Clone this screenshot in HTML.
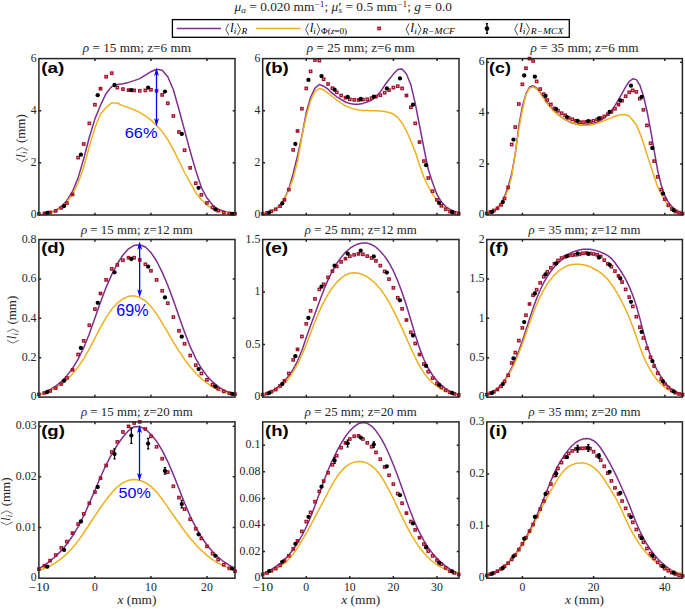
<!DOCTYPE html>
<html><head><meta charset="utf-8"><title>figure</title><style>
html,body{margin:0;padding:0;background:#fff;overflow:hidden;}
svg{display:block;}
</style></head><body>
<svg width="685" height="609" viewBox="0 0 685 609">
<rect x="0" y="0" width="685" height="609" fill="#ffffff"/>
<defs><clipPath id="cpa"><rect x="38.90" y="58.60" width="196.10" height="156.40"/></clipPath><clipPath id="cpb"><rect x="262.70" y="58.60" width="196.30" height="156.40"/></clipPath><clipPath id="cpc"><rect x="486.80" y="58.60" width="195.60" height="156.40"/></clipPath><clipPath id="cpd"><rect x="38.90" y="239.50" width="196.10" height="157.60"/></clipPath><clipPath id="cpe"><rect x="262.70" y="239.50" width="196.30" height="157.60"/></clipPath><clipPath id="cpf"><rect x="486.80" y="239.50" width="195.60" height="157.60"/></clipPath><clipPath id="cpg"><rect x="38.90" y="421.90" width="196.10" height="156.30"/></clipPath><clipPath id="cph"><rect x="262.70" y="421.90" width="196.30" height="156.30"/></clipPath><clipPath id="cpi"><rect x="486.80" y="421.90" width="195.60" height="156.30"/></clipPath></defs>
<g clip-path="url(#cpa)"><path d="M38.90,214.93 L44.50,214.36 L50.11,212.93 L55.71,210.40 L61.31,206.42 L66.92,200.41 L72.52,191.42 L78.12,177.88 L83.72,158.78 L89.33,137.19 L94.93,118.88 L100.53,105.16 L106.14,93.40 L111.74,86.60 L117.34,84.60 L122.94,83.80 L128.55,82.40 L134.15,80.60 L139.75,78.60 L145.36,75.10 L150.96,71.70 L156.56,69.20 L162.16,70.20 L167.77,76.80 L173.37,89.80 L178.97,109.50 L184.58,130.40 L190.18,151.20 L195.78,170.60 L201.39,187.60 L206.99,198.00 L212.59,205.00 L218.19,209.30 L223.80,211.30 L229.40,213.10 L235.00,213.80" fill="none" stroke="#7E2F8E" stroke-width="1.5" stroke-linejoin="round"/><path d="M38.90,214.82 L44.50,214.56 L50.11,213.38 L55.71,211.09 L61.31,207.41 L66.92,201.96 L72.52,194.15 L78.12,183.02 L83.72,167.13 L89.33,146.35 L94.93,127.76 L100.53,114.09 L106.14,107.50 L111.74,102.90 L117.34,103.00 L122.94,105.89 L128.55,107.61 L134.15,109.76 L139.75,112.43 L145.36,115.77 L150.96,120.09 L156.56,125.50 L162.16,131.30 L167.77,139.70 L173.37,149.60 L178.97,161.00 L184.58,172.50 L190.18,182.50 L195.78,192.70 L201.39,199.70 L206.99,205.30 L212.59,208.60 L218.19,210.90 L223.80,212.30 L229.40,213.10 L235.00,213.60" fill="none" stroke="#EDB120" stroke-width="1.5" stroke-linejoin="round"/></g><rect x="37.75" y="212.65" width="2.3" height="2.3" fill="none" stroke="#A2142F" stroke-width="1.4"/><rect x="43.35" y="212.25" width="2.3" height="2.3" fill="none" stroke="#A2142F" stroke-width="1.4"/><rect x="48.96" y="211.25" width="2.3" height="2.3" fill="none" stroke="#A2142F" stroke-width="1.4"/><rect x="54.56" y="209.75" width="2.3" height="2.3" fill="none" stroke="#A2142F" stroke-width="1.4"/><rect x="60.16" y="206.65" width="2.3" height="2.3" fill="none" stroke="#A2142F" stroke-width="1.4"/><rect x="65.77" y="202.05" width="2.3" height="2.3" fill="none" stroke="#A2142F" stroke-width="1.4"/><rect x="71.37" y="193.25" width="2.3" height="2.3" fill="none" stroke="#A2142F" stroke-width="1.4"/><rect x="76.97" y="156.45" width="2.3" height="2.3" fill="none" stroke="#A2142F" stroke-width="1.4"/><rect x="82.57" y="142.85" width="2.3" height="2.3" fill="none" stroke="#A2142F" stroke-width="1.4"/><rect x="88.18" y="122.25" width="2.3" height="2.3" fill="none" stroke="#A2142F" stroke-width="1.4"/><rect x="93.78" y="103.55" width="2.3" height="2.3" fill="none" stroke="#A2142F" stroke-width="1.4"/><rect x="99.38" y="87.55" width="2.3" height="2.3" fill="none" stroke="#A2142F" stroke-width="1.4"/><rect x="104.99" y="75.55" width="2.3" height="2.3" fill="none" stroke="#A2142F" stroke-width="1.4"/><rect x="110.59" y="72.05" width="2.3" height="2.3" fill="none" stroke="#A2142F" stroke-width="1.4"/><rect x="116.19" y="86.45" width="2.3" height="2.3" fill="none" stroke="#A2142F" stroke-width="1.4"/><rect x="121.79" y="87.95" width="2.3" height="2.3" fill="none" stroke="#A2142F" stroke-width="1.4"/><rect x="127.40" y="88.95" width="2.3" height="2.3" fill="none" stroke="#A2142F" stroke-width="1.4"/><rect x="133.00" y="89.25" width="2.3" height="2.3" fill="none" stroke="#A2142F" stroke-width="1.4"/><rect x="138.60" y="89.65" width="2.3" height="2.3" fill="none" stroke="#A2142F" stroke-width="1.4"/><rect x="144.21" y="89.25" width="2.3" height="2.3" fill="none" stroke="#A2142F" stroke-width="1.4"/><rect x="149.81" y="88.65" width="2.3" height="2.3" fill="none" stroke="#A2142F" stroke-width="1.4"/><rect x="155.41" y="89.65" width="2.3" height="2.3" fill="none" stroke="#A2142F" stroke-width="1.4"/><rect x="161.01" y="93.75" width="2.3" height="2.3" fill="none" stroke="#A2142F" stroke-width="1.4"/><rect x="166.62" y="102.15" width="2.3" height="2.3" fill="none" stroke="#A2142F" stroke-width="1.4"/><rect x="172.22" y="114.85" width="2.3" height="2.3" fill="none" stroke="#A2142F" stroke-width="1.4"/><rect x="177.82" y="130.85" width="2.3" height="2.3" fill="none" stroke="#A2142F" stroke-width="1.4"/><rect x="183.43" y="149.05" width="2.3" height="2.3" fill="none" stroke="#A2142F" stroke-width="1.4"/><rect x="189.03" y="166.65" width="2.3" height="2.3" fill="none" stroke="#A2142F" stroke-width="1.4"/><rect x="194.63" y="182.05" width="2.3" height="2.3" fill="none" stroke="#A2142F" stroke-width="1.4"/><rect x="200.24" y="193.65" width="2.3" height="2.3" fill="none" stroke="#A2142F" stroke-width="1.4"/><rect x="205.84" y="201.75" width="2.3" height="2.3" fill="none" stroke="#A2142F" stroke-width="1.4"/><rect x="211.44" y="206.35" width="2.3" height="2.3" fill="none" stroke="#A2142F" stroke-width="1.4"/><rect x="217.04" y="209.55" width="2.3" height="2.3" fill="none" stroke="#A2142F" stroke-width="1.4"/><rect x="222.65" y="211.45" width="2.3" height="2.3" fill="none" stroke="#A2142F" stroke-width="1.4"/><rect x="228.25" y="212.25" width="2.3" height="2.3" fill="none" stroke="#A2142F" stroke-width="1.4"/><rect x="233.85" y="212.55" width="2.3" height="2.3" fill="none" stroke="#A2142F" stroke-width="1.4"/><circle cx="47.31" cy="212.90" r="2.15" fill="#000"/><circle cx="64.11" cy="206.10" r="2.15" fill="#000"/><circle cx="80.92" cy="154.70" r="2.15" fill="#000"/><circle cx="97.73" cy="95.20" r="2.15" fill="#000"/><circle cx="114.54" cy="85.00" r="2.15" fill="#000"/><circle cx="131.35" cy="90.10" r="2.15" fill="#000"/><circle cx="148.16" cy="87.60" r="2.15" fill="#000"/><circle cx="164.97" cy="91.60" r="2.15" fill="#000"/><circle cx="181.77" cy="133.90" r="2.15" fill="#000"/><circle cx="198.58" cy="187.80" r="2.15" fill="#000"/><circle cx="215.39" cy="209.40" r="2.15" fill="#000"/><circle cx="232.20" cy="213.80" r="2.15" fill="#000"/><rect x="38.90" y="58.60" width="196.10" height="156.40" fill="none" stroke="#262626" stroke-width="1.5"/><path d="M94.93,215.00v-2.3M94.93,58.60v2.3M150.96,215.00v-2.3M150.96,58.60v2.3M206.99,215.00v-2.3M206.99,58.60v2.3M38.90,162.87h2.3M235.00,162.87h-2.3M38.90,110.73h2.3M235.00,110.73h-2.3" stroke="#262626" stroke-width="1.5" fill="none"/><text x="36.60" y="218.20" font-family='"Liberation Serif", serif' font-size="11.7" text-anchor="end" textLength="5.85" lengthAdjust="spacingAndGlyphs" fill="#262626">0</text><text x="36.60" y="166.07" font-family='"Liberation Serif", serif' font-size="11.7" text-anchor="end" textLength="5.85" lengthAdjust="spacingAndGlyphs" fill="#262626">2</text><text x="36.60" y="113.93" font-family='"Liberation Serif", serif' font-size="11.7" text-anchor="end" textLength="5.85" lengthAdjust="spacingAndGlyphs" fill="#262626">4</text><text x="36.60" y="61.80" font-family='"Liberation Serif", serif' font-size="11.7" text-anchor="end" textLength="5.85" lengthAdjust="spacingAndGlyphs" fill="#262626">6</text><g transform="translate(82.85,0) scale(1.1290,1)"><text x="0.00" y="52.40" font-family='"Liberation Serif", serif' font-size="11.7" font-style="italic" fill="#262626">ρ</text><text x="5.62" y="52.40" font-family='"Liberation Serif", serif' font-size="11.7" fill="#262626"> = 15 mm; z=6 mm</text></g><text x="41.16" y="72.52" font-family='"Liberation Sans", sans-serif' font-size="14.38" font-weight="bold" textLength="23.14" lengthAdjust="spacingAndGlyphs" fill="#000">(a)</text>
<g clip-path="url(#cpb)"><path d="M262.68,214.81 L267.04,213.58 L271.39,211.70 L275.75,208.91 L280.11,204.82 L284.46,198.68 L288.82,188.97 L293.18,173.53 L297.54,155.72 L301.89,135.83 L306.25,112.34 L310.61,97.30 L314.96,88.10 L319.32,84.50 L323.68,86.20 L328.04,89.22 L332.39,93.37 L336.75,96.78 L341.11,99.30 L345.46,102.00 L349.82,103.60 L354.18,104.30 L358.53,104.20 L362.89,103.40 L367.25,102.00 L371.61,100.00 L375.96,96.56 L380.32,91.96 L384.68,85.30 L389.03,79.50 L393.39,74.10 L397.75,69.60 L402.10,68.90 L406.46,74.00 L410.82,84.70 L415.18,103.20 L419.53,125.50 L423.89,148.00 L428.25,169.30 L432.60,182.80 L436.96,194.50 L441.32,201.80 L445.67,206.60 L450.03,209.40 L454.39,211.30 L458.75,212.80" fill="none" stroke="#7E2F8E" stroke-width="1.5" stroke-linejoin="round"/><path d="M262.68,214.65 L267.04,213.88 L271.39,212.13 L275.75,209.20 L280.11,204.83 L284.46,198.63 L288.82,190.06 L293.18,178.37 L297.54,161.30 L301.89,136.75 L306.25,115.92 L310.61,100.60 L314.96,91.40 L319.32,88.50 L323.68,89.80 L328.04,93.09 L332.39,96.51 L336.75,100.03 L341.11,103.10 L345.46,105.80 L349.82,107.60 L354.18,109.10 L358.53,110.00 L362.89,110.40 L367.25,110.60 L371.61,110.80 L375.96,110.80 L380.32,110.90 L384.68,111.50 L389.03,112.50 L393.39,114.00 L397.75,117.60 L402.10,123.00 L406.46,130.80 L410.82,141.00 L415.18,151.50 L419.53,164.95 L423.89,177.21 L428.25,186.30 L432.60,194.10 L436.96,200.60 L441.32,205.40 L445.67,208.30 L450.03,210.60 L454.39,212.10 L458.75,213.00" fill="none" stroke="#EDB120" stroke-width="1.5" stroke-linejoin="round"/></g><rect x="261.53" y="212.55" width="2.3" height="2.3" fill="none" stroke="#A2142F" stroke-width="1.4"/><rect x="265.89" y="211.75" width="2.3" height="2.3" fill="none" stroke="#A2142F" stroke-width="1.4"/><rect x="270.24" y="210.05" width="2.3" height="2.3" fill="none" stroke="#A2142F" stroke-width="1.4"/><rect x="274.60" y="208.15" width="2.3" height="2.3" fill="none" stroke="#A2142F" stroke-width="1.4"/><rect x="278.96" y="204.95" width="2.3" height="2.3" fill="none" stroke="#A2142F" stroke-width="1.4"/><rect x="283.31" y="198.65" width="2.3" height="2.3" fill="none" stroke="#A2142F" stroke-width="1.4"/><rect x="287.67" y="188.45" width="2.3" height="2.3" fill="none" stroke="#A2142F" stroke-width="1.4"/><rect x="292.03" y="148.75" width="2.3" height="2.3" fill="none" stroke="#A2142F" stroke-width="1.4"/><rect x="296.39" y="129.85" width="2.3" height="2.3" fill="none" stroke="#A2142F" stroke-width="1.4"/><rect x="300.74" y="107.55" width="2.3" height="2.3" fill="none" stroke="#A2142F" stroke-width="1.4"/><rect x="305.10" y="87.25" width="2.3" height="2.3" fill="none" stroke="#A2142F" stroke-width="1.4"/><rect x="309.46" y="70.25" width="2.3" height="2.3" fill="none" stroke="#A2142F" stroke-width="1.4"/><rect x="313.81" y="58.85" width="2.3" height="2.3" fill="none" stroke="#A2142F" stroke-width="1.4"/><rect x="318.17" y="59.45" width="2.3" height="2.3" fill="none" stroke="#A2142F" stroke-width="1.4"/><rect x="322.53" y="78.05" width="2.3" height="2.3" fill="none" stroke="#A2142F" stroke-width="1.4"/><rect x="326.89" y="82.85" width="2.3" height="2.3" fill="none" stroke="#A2142F" stroke-width="1.4"/><rect x="331.24" y="87.05" width="2.3" height="2.3" fill="none" stroke="#A2142F" stroke-width="1.4"/><rect x="335.60" y="91.15" width="2.3" height="2.3" fill="none" stroke="#A2142F" stroke-width="1.4"/><rect x="339.96" y="94.35" width="2.3" height="2.3" fill="none" stroke="#A2142F" stroke-width="1.4"/><rect x="344.31" y="96.55" width="2.3" height="2.3" fill="none" stroke="#A2142F" stroke-width="1.4"/><rect x="348.67" y="98.15" width="2.3" height="2.3" fill="none" stroke="#A2142F" stroke-width="1.4"/><rect x="353.03" y="98.75" width="2.3" height="2.3" fill="none" stroke="#A2142F" stroke-width="1.4"/><rect x="357.38" y="98.85" width="2.3" height="2.3" fill="none" stroke="#A2142F" stroke-width="1.4"/><rect x="361.74" y="98.45" width="2.3" height="2.3" fill="none" stroke="#A2142F" stroke-width="1.4"/><rect x="366.10" y="98.15" width="2.3" height="2.3" fill="none" stroke="#A2142F" stroke-width="1.4"/><rect x="370.46" y="96.95" width="2.3" height="2.3" fill="none" stroke="#A2142F" stroke-width="1.4"/><rect x="374.81" y="95.55" width="2.3" height="2.3" fill="none" stroke="#A2142F" stroke-width="1.4"/><rect x="379.17" y="94.05" width="2.3" height="2.3" fill="none" stroke="#A2142F" stroke-width="1.4"/><rect x="383.53" y="91.55" width="2.3" height="2.3" fill="none" stroke="#A2142F" stroke-width="1.4"/><rect x="387.88" y="88.95" width="2.3" height="2.3" fill="none" stroke="#A2142F" stroke-width="1.4"/><rect x="392.24" y="86.45" width="2.3" height="2.3" fill="none" stroke="#A2142F" stroke-width="1.4"/><rect x="396.60" y="85.05" width="2.3" height="2.3" fill="none" stroke="#A2142F" stroke-width="1.4"/><rect x="400.95" y="87.25" width="2.3" height="2.3" fill="none" stroke="#A2142F" stroke-width="1.4"/><rect x="405.31" y="94.35" width="2.3" height="2.3" fill="none" stroke="#A2142F" stroke-width="1.4"/><rect x="409.67" y="106.15" width="2.3" height="2.3" fill="none" stroke="#A2142F" stroke-width="1.4"/><rect x="414.03" y="122.25" width="2.3" height="2.3" fill="none" stroke="#A2142F" stroke-width="1.4"/><rect x="418.38" y="140.95" width="2.3" height="2.3" fill="none" stroke="#A2142F" stroke-width="1.4"/><rect x="422.74" y="159.95" width="2.3" height="2.3" fill="none" stroke="#A2142F" stroke-width="1.4"/><rect x="427.10" y="176.85" width="2.3" height="2.3" fill="none" stroke="#A2142F" stroke-width="1.4"/><rect x="431.45" y="190.05" width="2.3" height="2.3" fill="none" stroke="#A2142F" stroke-width="1.4"/><rect x="435.81" y="198.75" width="2.3" height="2.3" fill="none" stroke="#A2142F" stroke-width="1.4"/><rect x="440.17" y="204.65" width="2.3" height="2.3" fill="none" stroke="#A2142F" stroke-width="1.4"/><rect x="444.52" y="208.15" width="2.3" height="2.3" fill="none" stroke="#A2142F" stroke-width="1.4"/><rect x="448.88" y="210.45" width="2.3" height="2.3" fill="none" stroke="#A2142F" stroke-width="1.4"/><rect x="453.24" y="211.75" width="2.3" height="2.3" fill="none" stroke="#A2142F" stroke-width="1.4"/><rect x="457.60" y="212.55" width="2.3" height="2.3" fill="none" stroke="#A2142F" stroke-width="1.4"/><circle cx="269.22" cy="212.60" r="2.15" fill="#000"/><circle cx="282.29" cy="203.40" r="2.15" fill="#000"/><circle cx="295.36" cy="144.00" r="2.15" fill="#000"/><circle cx="308.43" cy="79.90" r="2.15" fill="#000"/><circle cx="321.50" cy="76.10" r="2.15" fill="#000"/><circle cx="334.57" cy="89.70" r="2.15" fill="#000"/><circle cx="347.64" cy="96.80" r="2.15" fill="#000"/><circle cx="360.71" cy="99.00" r="2.15" fill="#000"/><circle cx="373.78" cy="96.70" r="2.15" fill="#000"/><circle cx="386.85" cy="88.40" r="2.15" fill="#000"/><circle cx="399.93" cy="78.40" r="2.15" fill="#000"/><circle cx="413.00" cy="104.70" r="2.15" fill="#000"/><circle cx="426.07" cy="165.20" r="2.15" fill="#000"/><circle cx="439.14" cy="202.90" r="2.15" fill="#000"/><circle cx="452.21" cy="212.20" r="2.15" fill="#000"/><rect x="262.70" y="58.60" width="196.30" height="156.40" fill="none" stroke="#262626" stroke-width="1.5"/><path d="M306.25,215.00v-2.3M306.25,58.60v2.3M349.82,215.00v-2.3M349.82,58.60v2.3M393.39,215.00v-2.3M393.39,58.60v2.3M436.96,215.00v-2.3M436.96,58.60v2.3M262.70,162.87h2.3M459.00,162.87h-2.3M262.70,110.73h2.3M459.00,110.73h-2.3" stroke="#262626" stroke-width="1.5" fill="none"/><text x="260.40" y="218.20" font-family='"Liberation Serif", serif' font-size="11.7" text-anchor="end" textLength="5.85" lengthAdjust="spacingAndGlyphs" fill="#262626">0</text><text x="260.40" y="166.07" font-family='"Liberation Serif", serif' font-size="11.7" text-anchor="end" textLength="5.85" lengthAdjust="spacingAndGlyphs" fill="#262626">2</text><text x="260.40" y="113.93" font-family='"Liberation Serif", serif' font-size="11.7" text-anchor="end" textLength="5.85" lengthAdjust="spacingAndGlyphs" fill="#262626">4</text><text x="260.40" y="61.80" font-family='"Liberation Serif", serif' font-size="11.7" text-anchor="end" textLength="5.85" lengthAdjust="spacingAndGlyphs" fill="#262626">6</text><g transform="translate(306.75,0) scale(1.1290,1)"><text x="0.00" y="52.40" font-family='"Liberation Serif", serif' font-size="11.7" font-style="italic" fill="#262626">ρ</text><text x="5.62" y="52.40" font-family='"Liberation Serif", serif' font-size="11.7" fill="#262626"> = 25 mm; z=6 mm</text></g><text x="264.97" y="72.52" font-family='"Liberation Sans", sans-serif' font-size="14.38" font-weight="bold" textLength="23.72" lengthAdjust="spacingAndGlyphs" fill="#000">(b)</text>
<g clip-path="url(#cpc)"><path d="M486.80,214.31 L490.36,213.07 L493.92,211.08 L497.48,208.01 L501.04,203.32 L504.60,196.28 L508.16,186.70 L511.72,173.56 L515.28,153.60 L518.84,126.00 L522.40,106.36 L525.96,93.91 L529.52,87.05 L533.08,85.80 L536.64,88.00 L540.20,92.37 L543.76,97.66 L547.32,102.79 L550.88,107.32 L554.44,111.15 L558.00,114.41 L561.56,117.19 L565.12,119.52 L568.68,121.44 L572.24,122.95 L575.80,124.06 L579.36,124.75 L582.92,125.02 L586.48,124.87 L590.04,124.34 L593.60,123.41 L597.16,122.08 L600.72,120.27 L604.28,117.86 L607.84,114.70 L611.40,110.65 L614.96,105.63 L618.52,99.72 L622.08,93.28 L625.64,86.86 L629.20,81.50 L632.76,78.83 L636.32,79.64 L639.88,85.19 L643.44,95.85 L647.00,111.00 L650.56,129.56 L654.12,150.34 L657.68,170.50 L661.24,185.20 L664.80,195.60 L668.36,202.10 L671.92,206.60 L675.48,209.80 L679.04,211.50 L682.60,212.80" fill="none" stroke="#7E2F8E" stroke-width="1.5" stroke-linejoin="round"/><path d="M486.80,214.71 L490.36,212.92 L493.92,210.57 L497.48,207.50 L501.04,203.42 L504.60,197.83 L508.16,189.72 L511.72,176.46 L515.28,153.00 L518.84,129.12 L522.40,109.96 L525.96,94.74 L529.52,88.10 L533.08,86.81 L536.64,88.72 L540.20,93.12 L543.76,98.63 L547.32,103.84 L550.88,108.09 L554.44,111.64 L558.00,114.63 L561.56,117.17 L565.12,119.31 L568.68,121.10 L572.24,122.56 L575.80,123.70 L579.36,124.52 L582.92,125.01 L586.48,125.15 L590.04,124.92 L593.60,124.28 L597.16,123.29 L600.72,122.02 L604.28,120.60 L607.84,119.10 L611.40,117.63 L614.96,116.29 L618.52,115.20 L622.08,114.58 L625.64,114.70 L629.20,116.05 L632.76,120.20 L636.32,124.70 L639.88,133.10 L643.44,143.20 L647.00,154.40 L650.56,165.30 L654.12,176.50 L657.68,186.90 L661.24,194.20 L664.80,200.50 L668.36,205.70 L671.92,208.70 L675.48,210.80 L679.04,212.30 L682.60,213.20" fill="none" stroke="#EDB120" stroke-width="1.5" stroke-linejoin="round"/></g><rect x="485.65" y="212.25" width="2.3" height="2.3" fill="none" stroke="#A2142F" stroke-width="1.4"/><rect x="489.21" y="210.75" width="2.3" height="2.3" fill="none" stroke="#A2142F" stroke-width="1.4"/><rect x="492.77" y="209.35" width="2.3" height="2.3" fill="none" stroke="#A2142F" stroke-width="1.4"/><rect x="496.33" y="207.15" width="2.3" height="2.3" fill="none" stroke="#A2142F" stroke-width="1.4"/><rect x="499.89" y="203.75" width="2.3" height="2.3" fill="none" stroke="#A2142F" stroke-width="1.4"/><rect x="503.45" y="197.35" width="2.3" height="2.3" fill="none" stroke="#A2142F" stroke-width="1.4"/><rect x="507.01" y="186.25" width="2.3" height="2.3" fill="none" stroke="#A2142F" stroke-width="1.4"/><rect x="510.57" y="143.35" width="2.3" height="2.3" fill="none" stroke="#A2142F" stroke-width="1.4"/><rect x="514.13" y="125.95" width="2.3" height="2.3" fill="none" stroke="#A2142F" stroke-width="1.4"/><rect x="517.69" y="102.85" width="2.3" height="2.3" fill="none" stroke="#A2142F" stroke-width="1.4"/><rect x="521.25" y="83.15" width="2.3" height="2.3" fill="none" stroke="#A2142F" stroke-width="1.4"/><rect x="524.81" y="67.05" width="2.3" height="2.3" fill="none" stroke="#A2142F" stroke-width="1.4"/><rect x="528.37" y="57.45" width="2.3" height="2.3" fill="none" stroke="#A2142F" stroke-width="1.4"/><rect x="531.93" y="59.85" width="2.3" height="2.3" fill="none" stroke="#A2142F" stroke-width="1.4"/><rect x="535.49" y="80.25" width="2.3" height="2.3" fill="none" stroke="#A2142F" stroke-width="1.4"/><rect x="539.05" y="87.95" width="2.3" height="2.3" fill="none" stroke="#A2142F" stroke-width="1.4"/><rect x="542.61" y="93.05" width="2.3" height="2.3" fill="none" stroke="#A2142F" stroke-width="1.4"/><rect x="546.17" y="98.85" width="2.3" height="2.3" fill="none" stroke="#A2142F" stroke-width="1.4"/><rect x="549.73" y="103.25" width="2.3" height="2.3" fill="none" stroke="#A2142F" stroke-width="1.4"/><rect x="553.29" y="107.25" width="2.3" height="2.3" fill="none" stroke="#A2142F" stroke-width="1.4"/><rect x="556.85" y="109.65" width="2.3" height="2.3" fill="none" stroke="#A2142F" stroke-width="1.4"/><rect x="560.41" y="112.05" width="2.3" height="2.3" fill="none" stroke="#A2142F" stroke-width="1.4"/><rect x="563.97" y="114.05" width="2.3" height="2.3" fill="none" stroke="#A2142F" stroke-width="1.4"/><rect x="567.53" y="116.75" width="2.3" height="2.3" fill="none" stroke="#A2142F" stroke-width="1.4"/><rect x="571.09" y="118.15" width="2.3" height="2.3" fill="none" stroke="#A2142F" stroke-width="1.4"/><rect x="574.65" y="119.65" width="2.3" height="2.3" fill="none" stroke="#A2142F" stroke-width="1.4"/><rect x="578.21" y="121.05" width="2.3" height="2.3" fill="none" stroke="#A2142F" stroke-width="1.4"/><rect x="581.77" y="121.05" width="2.3" height="2.3" fill="none" stroke="#A2142F" stroke-width="1.4"/><rect x="585.33" y="120.75" width="2.3" height="2.3" fill="none" stroke="#A2142F" stroke-width="1.4"/><rect x="588.89" y="120.35" width="2.3" height="2.3" fill="none" stroke="#A2142F" stroke-width="1.4"/><rect x="592.45" y="119.65" width="2.3" height="2.3" fill="none" stroke="#A2142F" stroke-width="1.4"/><rect x="596.01" y="118.35" width="2.3" height="2.3" fill="none" stroke="#A2142F" stroke-width="1.4"/><rect x="599.57" y="116.85" width="2.3" height="2.3" fill="none" stroke="#A2142F" stroke-width="1.4"/><rect x="603.13" y="115.25" width="2.3" height="2.3" fill="none" stroke="#A2142F" stroke-width="1.4"/><rect x="606.69" y="113.05" width="2.3" height="2.3" fill="none" stroke="#A2142F" stroke-width="1.4"/><rect x="610.25" y="110.65" width="2.3" height="2.3" fill="none" stroke="#A2142F" stroke-width="1.4"/><rect x="613.81" y="107.65" width="2.3" height="2.3" fill="none" stroke="#A2142F" stroke-width="1.4"/><rect x="617.37" y="103.45" width="2.3" height="2.3" fill="none" stroke="#A2142F" stroke-width="1.4"/><rect x="620.93" y="99.55" width="2.3" height="2.3" fill="none" stroke="#A2142F" stroke-width="1.4"/><rect x="624.49" y="95.05" width="2.3" height="2.3" fill="none" stroke="#A2142F" stroke-width="1.4"/><rect x="628.05" y="91.15" width="2.3" height="2.3" fill="none" stroke="#A2142F" stroke-width="1.4"/><rect x="631.61" y="89.25" width="2.3" height="2.3" fill="none" stroke="#A2142F" stroke-width="1.4"/><rect x="635.17" y="90.75" width="2.3" height="2.3" fill="none" stroke="#A2142F" stroke-width="1.4"/><rect x="638.73" y="97.45" width="2.3" height="2.3" fill="none" stroke="#A2142F" stroke-width="1.4"/><rect x="642.29" y="108.65" width="2.3" height="2.3" fill="none" stroke="#A2142F" stroke-width="1.4"/><rect x="645.85" y="124.25" width="2.3" height="2.3" fill="none" stroke="#A2142F" stroke-width="1.4"/><rect x="649.41" y="142.15" width="2.3" height="2.3" fill="none" stroke="#A2142F" stroke-width="1.4"/><rect x="652.97" y="159.95" width="2.3" height="2.3" fill="none" stroke="#A2142F" stroke-width="1.4"/><rect x="656.53" y="175.75" width="2.3" height="2.3" fill="none" stroke="#A2142F" stroke-width="1.4"/><rect x="660.09" y="188.45" width="2.3" height="2.3" fill="none" stroke="#A2142F" stroke-width="1.4"/><rect x="663.65" y="197.95" width="2.3" height="2.3" fill="none" stroke="#A2142F" stroke-width="1.4"/><rect x="667.21" y="204.15" width="2.3" height="2.3" fill="none" stroke="#A2142F" stroke-width="1.4"/><rect x="670.77" y="207.85" width="2.3" height="2.3" fill="none" stroke="#A2142F" stroke-width="1.4"/><rect x="674.33" y="210.45" width="2.3" height="2.3" fill="none" stroke="#A2142F" stroke-width="1.4"/><rect x="677.89" y="211.75" width="2.3" height="2.3" fill="none" stroke="#A2142F" stroke-width="1.4"/><rect x="681.45" y="212.55" width="2.3" height="2.3" fill="none" stroke="#A2142F" stroke-width="1.4"/><circle cx="492.14" cy="211.90" r="2.15" fill="#000"/><circle cx="502.82" cy="202.10" r="2.15" fill="#000"/><circle cx="513.50" cy="139.60" r="2.15" fill="#000"/><circle cx="524.18" cy="75.50" r="2.15" fill="#000"/><circle cx="534.86" cy="76.70" r="2.15" fill="#000"/><circle cx="545.54" cy="96.00" r="2.15" fill="#000"/><circle cx="556.22" cy="109.10" r="2.15" fill="#000"/><circle cx="566.90" cy="117.10" r="2.15" fill="#000"/><circle cx="577.58" cy="120.80" r="2.15" fill="#000"/><circle cx="588.26" cy="121.10" r="2.15" fill="#000"/><circle cx="598.94" cy="118.40" r="2.15" fill="#000"/><circle cx="609.62" cy="112.00" r="2.15" fill="#000"/><circle cx="620.30" cy="100.50" r="2.15" fill="#000"/><circle cx="630.98" cy="85.70" r="2.15" fill="#000"/><circle cx="641.66" cy="97.00" r="2.15" fill="#000"/><circle cx="652.34" cy="148.00" r="2.15" fill="#000"/><circle cx="663.02" cy="193.70" r="2.15" fill="#000"/><circle cx="673.70" cy="210.20" r="2.15" fill="#000"/><rect x="486.80" y="58.60" width="195.60" height="156.40" fill="none" stroke="#262626" stroke-width="1.5"/><path d="M522.40,215.00v-2.3M522.40,58.60v2.3M593.60,215.00v-2.3M593.60,58.60v2.3M664.80,215.00v-2.3M664.80,58.60v2.3M486.80,164.06h2.3M682.40,164.06h-2.3M486.80,113.11h2.3M682.40,113.11h-2.3M486.80,62.17h2.3M682.40,62.17h-2.3" stroke="#262626" stroke-width="1.5" fill="none"/><text x="484.50" y="218.20" font-family='"Liberation Serif", serif' font-size="11.7" text-anchor="end" textLength="5.85" lengthAdjust="spacingAndGlyphs" fill="#262626">0</text><text x="484.50" y="167.26" font-family='"Liberation Serif", serif' font-size="11.7" text-anchor="end" textLength="5.85" lengthAdjust="spacingAndGlyphs" fill="#262626">2</text><text x="484.50" y="116.31" font-family='"Liberation Serif", serif' font-size="11.7" text-anchor="end" textLength="5.85" lengthAdjust="spacingAndGlyphs" fill="#262626">4</text><text x="484.50" y="65.37" font-family='"Liberation Serif", serif' font-size="11.7" text-anchor="end" textLength="5.85" lengthAdjust="spacingAndGlyphs" fill="#262626">6</text><g transform="translate(530.50,0) scale(1.1290,1)"><text x="0.00" y="52.40" font-family='"Liberation Serif", serif' font-size="11.7" font-style="italic" fill="#262626">ρ</text><text x="5.62" y="52.40" font-family='"Liberation Serif", serif' font-size="11.7" fill="#262626"> = 35 mm; z=6 mm</text></g><text x="489.11" y="72.52" font-family='"Liberation Sans", sans-serif' font-size="14.38" font-weight="bold" textLength="21.80" lengthAdjust="spacingAndGlyphs" fill="#000">(c)</text>
<g clip-path="url(#cpd)"><path d="M38.90,394.87 L44.50,392.56 L50.11,389.71 L55.71,386.07 L61.31,381.46 L66.92,375.65 L72.52,368.34 L78.12,359.16 L83.72,347.71 L89.33,333.81 L94.93,318.07 L100.53,302.05 L106.14,287.35 L111.74,274.60 L117.34,263.75 L122.94,255.01 L128.55,248.86 L134.15,245.43 L139.75,244.72 L145.36,246.99 L150.96,252.47 L156.56,261.02 L162.16,272.12 L167.77,285.29 L173.37,300.29 L178.97,316.44 L184.58,332.35 L190.18,346.64 L195.78,358.62 L201.39,368.27 L206.99,375.91 L212.59,381.90 L218.19,386.54 L223.80,390.07 L229.40,392.66 L235.00,394.62" fill="none" stroke="#7E2F8E" stroke-width="1.5" stroke-linejoin="round"/><path d="M38.90,394.90 L44.50,393.02 L50.11,390.73 L55.71,387.83 L61.31,384.19 L66.92,379.64 L72.52,374.00 L78.12,367.06 L83.72,358.70 L89.33,348.95 L94.93,338.21 L100.53,327.31 L106.14,317.36 L111.74,309.21 L117.34,303.06 L122.94,298.78 L128.55,296.34 L134.15,295.86 L139.75,297.35 L145.36,300.83 L150.96,306.36 L156.56,313.84 L162.16,322.79 L167.77,332.44 L173.37,342.06 L178.97,351.16 L184.58,359.45 L190.18,366.79 L195.78,373.19 L201.39,378.65 L206.99,383.23 L212.59,386.97 L218.19,389.91 L223.80,392.12 L229.40,393.64 L235.00,394.67" fill="none" stroke="#EDB120" stroke-width="1.5" stroke-linejoin="round"/></g><rect x="37.75" y="393.25" width="2.3" height="2.3" fill="none" stroke="#A2142F" stroke-width="1.4"/><rect x="43.35" y="391.75" width="2.3" height="2.3" fill="none" stroke="#A2142F" stroke-width="1.4"/><rect x="48.96" y="389.85" width="2.3" height="2.3" fill="none" stroke="#A2142F" stroke-width="1.4"/><rect x="54.56" y="386.95" width="2.3" height="2.3" fill="none" stroke="#A2142F" stroke-width="1.4"/><rect x="60.16" y="382.85" width="2.3" height="2.3" fill="none" stroke="#A2142F" stroke-width="1.4"/><rect x="65.77" y="376.75" width="2.3" height="2.3" fill="none" stroke="#A2142F" stroke-width="1.4"/><rect x="71.37" y="368.65" width="2.3" height="2.3" fill="none" stroke="#A2142F" stroke-width="1.4"/><rect x="76.97" y="353.35" width="2.3" height="2.3" fill="none" stroke="#A2142F" stroke-width="1.4"/><rect x="82.57" y="339.75" width="2.3" height="2.3" fill="none" stroke="#A2142F" stroke-width="1.4"/><rect x="88.18" y="324.15" width="2.3" height="2.3" fill="none" stroke="#A2142F" stroke-width="1.4"/><rect x="93.78" y="307.95" width="2.3" height="2.3" fill="none" stroke="#A2142F" stroke-width="1.4"/><rect x="99.38" y="292.35" width="2.3" height="2.3" fill="none" stroke="#A2142F" stroke-width="1.4"/><rect x="104.99" y="278.75" width="2.3" height="2.3" fill="none" stroke="#A2142F" stroke-width="1.4"/><rect x="110.59" y="267.75" width="2.3" height="2.3" fill="none" stroke="#A2142F" stroke-width="1.4"/><rect x="116.19" y="263.85" width="2.3" height="2.3" fill="none" stroke="#A2142F" stroke-width="1.4"/><rect x="121.79" y="259.05" width="2.3" height="2.3" fill="none" stroke="#A2142F" stroke-width="1.4"/><rect x="127.40" y="256.55" width="2.3" height="2.3" fill="none" stroke="#A2142F" stroke-width="1.4"/><rect x="133.00" y="256.55" width="2.3" height="2.3" fill="none" stroke="#A2142F" stroke-width="1.4"/><rect x="138.60" y="258.75" width="2.3" height="2.3" fill="none" stroke="#A2142F" stroke-width="1.4"/><rect x="144.21" y="263.15" width="2.3" height="2.3" fill="none" stroke="#A2142F" stroke-width="1.4"/><rect x="149.81" y="269.65" width="2.3" height="2.3" fill="none" stroke="#A2142F" stroke-width="1.4"/><rect x="155.41" y="278.75" width="2.3" height="2.3" fill="none" stroke="#A2142F" stroke-width="1.4"/><rect x="161.01" y="289.65" width="2.3" height="2.3" fill="none" stroke="#A2142F" stroke-width="1.4"/><rect x="166.62" y="302.05" width="2.3" height="2.3" fill="none" stroke="#A2142F" stroke-width="1.4"/><rect x="172.22" y="315.95" width="2.3" height="2.3" fill="none" stroke="#A2142F" stroke-width="1.4"/><rect x="177.82" y="329.65" width="2.3" height="2.3" fill="none" stroke="#A2142F" stroke-width="1.4"/><rect x="183.43" y="342.65" width="2.3" height="2.3" fill="none" stroke="#A2142F" stroke-width="1.4"/><rect x="189.03" y="354.35" width="2.3" height="2.3" fill="none" stroke="#A2142F" stroke-width="1.4"/><rect x="194.63" y="364.05" width="2.3" height="2.3" fill="none" stroke="#A2142F" stroke-width="1.4"/><rect x="200.24" y="372.35" width="2.3" height="2.3" fill="none" stroke="#A2142F" stroke-width="1.4"/><rect x="205.84" y="378.65" width="2.3" height="2.3" fill="none" stroke="#A2142F" stroke-width="1.4"/><rect x="211.44" y="383.55" width="2.3" height="2.3" fill="none" stroke="#A2142F" stroke-width="1.4"/><rect x="217.04" y="387.65" width="2.3" height="2.3" fill="none" stroke="#A2142F" stroke-width="1.4"/><rect x="222.65" y="390.25" width="2.3" height="2.3" fill="none" stroke="#A2142F" stroke-width="1.4"/><rect x="228.25" y="392.05" width="2.3" height="2.3" fill="none" stroke="#A2142F" stroke-width="1.4"/><rect x="233.85" y="393.05" width="2.3" height="2.3" fill="none" stroke="#A2142F" stroke-width="1.4"/><circle cx="47.31" cy="392.00" r="2.15" fill="#000"/><circle cx="64.11" cy="380.80" r="2.15" fill="#000"/><circle cx="80.92" cy="347.90" r="2.15" fill="#000"/><circle cx="97.73" cy="302.80" r="2.15" fill="#000"/><circle cx="114.54" cy="272.30" r="2.15" fill="#000"/><circle cx="131.35" cy="259.00" r="2.15" fill="#000"/><circle cx="148.16" cy="266.70" r="2.15" fill="#000"/><circle cx="164.97" cy="297.40" r="2.15" fill="#000"/><circle cx="181.77" cy="336.70" r="2.15" fill="#000"/><circle cx="198.58" cy="369.10" r="2.15" fill="#000"/><circle cx="215.39" cy="386.60" r="2.15" fill="#000"/><circle cx="232.20" cy="393.90" r="2.15" fill="#000"/><rect x="38.90" y="239.50" width="196.10" height="157.60" fill="none" stroke="#262626" stroke-width="1.5"/><path d="M94.93,397.10v-2.3M94.93,239.50v2.3M150.96,397.10v-2.3M150.96,239.50v2.3M206.99,397.10v-2.3M206.99,239.50v2.3M38.90,357.70h2.3M235.00,357.70h-2.3M38.90,318.30h2.3M235.00,318.30h-2.3M38.90,278.90h2.3M235.00,278.90h-2.3" stroke="#262626" stroke-width="1.5" fill="none"/><text x="36.60" y="400.30" font-family='"Liberation Serif", serif' font-size="11.7" text-anchor="end" textLength="5.85" lengthAdjust="spacingAndGlyphs" fill="#262626">0</text><text x="36.60" y="360.90" font-family='"Liberation Serif", serif' font-size="11.7" text-anchor="end" textLength="14.95" lengthAdjust="spacingAndGlyphs" fill="#262626">0.2</text><text x="36.60" y="321.50" font-family='"Liberation Serif", serif' font-size="11.7" text-anchor="end" textLength="14.95" lengthAdjust="spacingAndGlyphs" fill="#262626">0.4</text><text x="36.60" y="282.10" font-family='"Liberation Serif", serif' font-size="11.7" text-anchor="end" textLength="14.95" lengthAdjust="spacingAndGlyphs" fill="#262626">0.6</text><text x="36.60" y="242.70" font-family='"Liberation Serif", serif' font-size="11.7" text-anchor="end" textLength="14.95" lengthAdjust="spacingAndGlyphs" fill="#262626">0.8</text><g transform="translate(80.95,0) scale(1.1015,1)"><text x="0.00" y="233.60" font-family='"Liberation Serif", serif' font-size="11.7" font-style="italic" fill="#262626">ρ</text><text x="5.62" y="233.60" font-family='"Liberation Serif", serif' font-size="11.7" fill="#262626"> = 15 mm; z=12 mm</text></g><text x="41.17" y="253.42" font-family='"Liberation Sans", sans-serif' font-size="14.38" font-weight="bold" textLength="23.72" lengthAdjust="spacingAndGlyphs" fill="#000">(d)</text>
<g clip-path="url(#cpe)"><path d="M262.68,395.68 L267.04,393.68 L271.39,391.35 L275.75,388.53 L280.11,385.09 L284.46,380.88 L288.82,375.69 L293.18,369.21 L297.54,361.04 L301.89,350.41 L306.25,337.87 L310.61,325.50 L314.96,313.68 L319.32,301.75 L323.68,290.23 L328.04,279.90 L332.39,271.00 L336.75,263.55 L341.11,257.38 L345.46,252.32 L349.82,248.45 L354.18,245.65 L358.53,243.80 L362.89,242.90 L367.25,243.10 L371.61,244.53 L375.96,247.22 L380.32,251.23 L384.68,256.37 L389.03,262.76 L393.39,270.94 L397.75,280.91 L402.10,292.44 L406.46,305.59 L410.82,320.04 L415.18,334.71 L419.53,348.12 L423.89,359.31 L428.25,368.23 L432.60,375.25 L436.96,380.78 L441.32,385.16 L445.67,388.60 L450.03,391.28 L454.39,393.34 L458.75,394.98" fill="none" stroke="#7E2F8E" stroke-width="1.5" stroke-linejoin="round"/><path d="M262.68,395.13 L267.04,394.06 L271.39,392.52 L275.75,390.28 L280.11,387.23 L284.46,383.23 L288.82,378.15 L293.18,371.83 L297.54,364.16 L301.89,355.01 L306.25,344.45 L310.61,332.98 L314.96,321.59 L319.32,311.17 L323.68,302.08 L328.04,294.31 L332.39,287.76 L336.75,282.35 L341.11,278.09 L345.46,275.04 L349.82,273.27 L354.18,272.73 L358.53,273.26 L362.89,274.68 L367.25,276.93 L371.61,280.03 L375.96,284.05 L380.32,289.06 L384.68,295.12 L389.03,302.25 L393.39,310.31 L397.75,319.09 L402.10,328.44 L406.46,338.21 L410.82,348.12 L415.18,357.56 L419.53,365.89 L423.89,372.85 L428.25,378.48 L432.60,382.96 L436.96,386.46 L441.32,389.16 L445.67,391.19 L450.03,392.64 L454.39,393.62 L458.75,394.26" fill="none" stroke="#EDB120" stroke-width="1.5" stroke-linejoin="round"/></g><rect x="261.53" y="393.45" width="2.3" height="2.3" fill="none" stroke="#A2142F" stroke-width="1.4"/><rect x="265.89" y="392.45" width="2.3" height="2.3" fill="none" stroke="#A2142F" stroke-width="1.4"/><rect x="270.24" y="390.55" width="2.3" height="2.3" fill="none" stroke="#A2142F" stroke-width="1.4"/><rect x="274.60" y="388.35" width="2.3" height="2.3" fill="none" stroke="#A2142F" stroke-width="1.4"/><rect x="278.96" y="384.75" width="2.3" height="2.3" fill="none" stroke="#A2142F" stroke-width="1.4"/><rect x="283.31" y="379.65" width="2.3" height="2.3" fill="none" stroke="#A2142F" stroke-width="1.4"/><rect x="287.67" y="372.35" width="2.3" height="2.3" fill="none" stroke="#A2142F" stroke-width="1.4"/><rect x="292.03" y="358.75" width="2.3" height="2.3" fill="none" stroke="#A2142F" stroke-width="1.4"/><rect x="296.39" y="348.25" width="2.3" height="2.3" fill="none" stroke="#A2142F" stroke-width="1.4"/><rect x="300.74" y="335.35" width="2.3" height="2.3" fill="none" stroke="#A2142F" stroke-width="1.4"/><rect x="305.10" y="322.65" width="2.3" height="2.3" fill="none" stroke="#A2142F" stroke-width="1.4"/><rect x="309.46" y="309.65" width="2.3" height="2.3" fill="none" stroke="#A2142F" stroke-width="1.4"/><rect x="313.81" y="297.75" width="2.3" height="2.3" fill="none" stroke="#A2142F" stroke-width="1.4"/><rect x="318.17" y="288.25" width="2.3" height="2.3" fill="none" stroke="#A2142F" stroke-width="1.4"/><rect x="322.53" y="283.15" width="2.3" height="2.3" fill="none" stroke="#A2142F" stroke-width="1.4"/><rect x="326.89" y="276.25" width="2.3" height="2.3" fill="none" stroke="#A2142F" stroke-width="1.4"/><rect x="331.24" y="269.95" width="2.3" height="2.3" fill="none" stroke="#A2142F" stroke-width="1.4"/><rect x="335.60" y="265.25" width="2.3" height="2.3" fill="none" stroke="#A2142F" stroke-width="1.4"/><rect x="339.96" y="260.75" width="2.3" height="2.3" fill="none" stroke="#A2142F" stroke-width="1.4"/><rect x="344.31" y="257.55" width="2.3" height="2.3" fill="none" stroke="#A2142F" stroke-width="1.4"/><rect x="348.67" y="255.05" width="2.3" height="2.3" fill="none" stroke="#A2142F" stroke-width="1.4"/><rect x="353.03" y="253.65" width="2.3" height="2.3" fill="none" stroke="#A2142F" stroke-width="1.4"/><rect x="357.38" y="252.75" width="2.3" height="2.3" fill="none" stroke="#A2142F" stroke-width="1.4"/><rect x="361.74" y="253.15" width="2.3" height="2.3" fill="none" stroke="#A2142F" stroke-width="1.4"/><rect x="366.10" y="254.95" width="2.3" height="2.3" fill="none" stroke="#A2142F" stroke-width="1.4"/><rect x="370.46" y="256.85" width="2.3" height="2.3" fill="none" stroke="#A2142F" stroke-width="1.4"/><rect x="374.81" y="259.75" width="2.3" height="2.3" fill="none" stroke="#A2142F" stroke-width="1.4"/><rect x="379.17" y="264.45" width="2.3" height="2.3" fill="none" stroke="#A2142F" stroke-width="1.4"/><rect x="383.53" y="270.25" width="2.3" height="2.3" fill="none" stroke="#A2142F" stroke-width="1.4"/><rect x="387.88" y="277.95" width="2.3" height="2.3" fill="none" stroke="#A2142F" stroke-width="1.4"/><rect x="392.24" y="286.75" width="2.3" height="2.3" fill="none" stroke="#A2142F" stroke-width="1.4"/><rect x="396.60" y="296.65" width="2.3" height="2.3" fill="none" stroke="#A2142F" stroke-width="1.4"/><rect x="400.95" y="307.65" width="2.3" height="2.3" fill="none" stroke="#A2142F" stroke-width="1.4"/><rect x="405.31" y="318.85" width="2.3" height="2.3" fill="none" stroke="#A2142F" stroke-width="1.4"/><rect x="409.67" y="331.15" width="2.3" height="2.3" fill="none" stroke="#A2142F" stroke-width="1.4"/><rect x="414.03" y="342.35" width="2.3" height="2.3" fill="none" stroke="#A2142F" stroke-width="1.4"/><rect x="418.38" y="353.35" width="2.3" height="2.3" fill="none" stroke="#A2142F" stroke-width="1.4"/><rect x="422.74" y="362.85" width="2.3" height="2.3" fill="none" stroke="#A2142F" stroke-width="1.4"/><rect x="427.10" y="370.55" width="2.3" height="2.3" fill="none" stroke="#A2142F" stroke-width="1.4"/><rect x="431.45" y="376.95" width="2.3" height="2.3" fill="none" stroke="#A2142F" stroke-width="1.4"/><rect x="435.81" y="382.25" width="2.3" height="2.3" fill="none" stroke="#A2142F" stroke-width="1.4"/><rect x="440.17" y="386.15" width="2.3" height="2.3" fill="none" stroke="#A2142F" stroke-width="1.4"/><rect x="444.52" y="389.15" width="2.3" height="2.3" fill="none" stroke="#A2142F" stroke-width="1.4"/><rect x="448.88" y="391.35" width="2.3" height="2.3" fill="none" stroke="#A2142F" stroke-width="1.4"/><rect x="453.24" y="392.75" width="2.3" height="2.3" fill="none" stroke="#A2142F" stroke-width="1.4"/><rect x="457.60" y="393.75" width="2.3" height="2.3" fill="none" stroke="#A2142F" stroke-width="1.4"/><circle cx="269.22" cy="392.90" r="2.15" fill="#000"/><circle cx="282.29" cy="384.00" r="2.15" fill="#000"/><circle cx="295.36" cy="356.20" r="2.15" fill="#000"/><circle cx="308.43" cy="318.00" r="2.15" fill="#000"/><circle cx="321.50" cy="286.70" r="2.15" fill="#000"/><circle cx="334.57" cy="265.70" r="2.15" fill="#000"/><circle cx="347.64" cy="253.60" r="2.15" fill="#000"/><circle cx="360.71" cy="250.70" r="2.15" fill="#000"/><circle cx="373.78" cy="256.50" r="2.15" fill="#000"/><circle cx="386.85" cy="272.60" r="2.15" fill="#000"/><circle cx="399.93" cy="300.30" r="2.15" fill="#000"/><circle cx="413.00" cy="335.50" r="2.15" fill="#000"/><circle cx="426.07" cy="365.90" r="2.15" fill="#000"/><circle cx="439.14" cy="384.90" r="2.15" fill="#000"/><circle cx="452.21" cy="392.90" r="2.15" fill="#000"/><rect x="262.70" y="239.50" width="196.30" height="157.60" fill="none" stroke="#262626" stroke-width="1.5"/><path d="M306.25,397.10v-2.3M306.25,239.50v2.3M349.82,397.10v-2.3M349.82,239.50v2.3M393.39,397.10v-2.3M393.39,239.50v2.3M436.96,397.10v-2.3M436.96,239.50v2.3M262.70,344.57h2.3M459.00,344.57h-2.3M262.70,292.03h2.3M459.00,292.03h-2.3" stroke="#262626" stroke-width="1.5" fill="none"/><text x="260.40" y="400.30" font-family='"Liberation Serif", serif' font-size="11.7" text-anchor="end" textLength="5.85" lengthAdjust="spacingAndGlyphs" fill="#262626">0</text><text x="260.40" y="347.77" font-family='"Liberation Serif", serif' font-size="11.7" text-anchor="end" textLength="14.95" lengthAdjust="spacingAndGlyphs" fill="#262626">0.5</text><text x="260.40" y="295.23" font-family='"Liberation Serif", serif' font-size="11.7" text-anchor="end" textLength="5.85" lengthAdjust="spacingAndGlyphs" fill="#262626">1</text><text x="260.40" y="242.70" font-family='"Liberation Serif", serif' font-size="11.7" text-anchor="end" textLength="14.95" lengthAdjust="spacingAndGlyphs" fill="#262626">1.5</text><g transform="translate(304.85,0) scale(1.1015,1)"><text x="0.00" y="233.60" font-family='"Liberation Serif", serif' font-size="11.7" font-style="italic" fill="#262626">ρ</text><text x="5.62" y="233.60" font-family='"Liberation Serif", serif' font-size="11.7" fill="#262626"> = 25 mm; z=12 mm</text></g><text x="264.95" y="253.42" font-family='"Liberation Sans", sans-serif' font-size="14.38" font-weight="bold" textLength="23.20" lengthAdjust="spacingAndGlyphs" fill="#000">(e)</text>
<g clip-path="url(#cpf)"><path d="M486.80,395.04 L490.36,393.52 L493.92,391.45 L497.48,388.60 L501.04,384.88 L504.60,380.19 L508.16,374.44 L511.72,367.62 L515.28,359.73 L518.84,350.79 L522.40,340.79 L525.96,329.96 L529.52,318.87 L533.08,308.23 L536.64,298.53 L540.20,290.00 L543.76,282.68 L547.32,276.46 L550.88,271.22 L554.44,266.79 L558.00,263.08 L561.56,259.97 L565.12,257.03 L568.68,254.19 L572.24,252.18 L575.80,250.88 L579.36,249.90 L582.92,249.33 L586.48,249.15 L590.04,249.32 L593.60,249.90 L597.16,250.85 L600.72,252.12 L604.28,253.70 L607.84,255.68 L611.40,258.60 L614.96,262.78 L618.52,267.70 L622.08,273.02 L625.64,279.18 L629.20,286.55 L632.76,295.23 L636.32,305.74 L639.88,318.62 L643.44,332.62 L647.00,345.30 L650.56,355.67 L654.12,364.16 L657.68,371.25 L661.24,377.25 L664.80,382.24 L668.36,386.29 L671.92,389.46 L675.48,391.84 L679.04,393.50 L682.60,394.67" fill="none" stroke="#7E2F8E" stroke-width="1.5" stroke-linejoin="round"/><path d="M486.80,395.42 L490.36,393.92 L493.92,391.92 L497.48,389.19 L501.04,385.65 L504.60,381.21 L508.16,375.76 L511.72,369.26 L515.28,361.72 L518.84,353.18 L522.40,343.69 L525.96,333.53 L529.52,323.26 L533.08,313.47 L536.64,304.54 L540.20,296.64 L543.76,289.78 L547.32,283.93 L550.88,278.99 L554.44,274.86 L558.00,271.50 L561.56,268.88 L565.12,266.78 L568.68,265.20 L572.24,264.42 L575.80,264.18 L579.36,264.23 L582.92,264.70 L586.48,265.57 L590.04,266.82 L593.60,268.48 L597.16,270.50 L600.72,272.93 L604.28,275.88 L607.84,279.57 L611.40,284.17 L614.96,289.50 L618.52,295.40 L622.08,302.10 L625.64,309.47 L629.20,317.47 L632.76,326.67 L636.32,336.83 L639.88,346.92 L643.44,356.12 L647.00,363.98 L650.56,370.50 L654.12,375.92 L657.68,380.47 L661.24,384.29 L664.80,387.43 L668.36,389.92 L671.92,391.79 L675.48,393.10 L679.04,393.89 L682.60,394.31" fill="none" stroke="#EDB120" stroke-width="1.5" stroke-linejoin="round"/></g><rect x="485.65" y="393.45" width="2.3" height="2.3" fill="none" stroke="#A2142F" stroke-width="1.4"/><rect x="489.21" y="392.05" width="2.3" height="2.3" fill="none" stroke="#A2142F" stroke-width="1.4"/><rect x="492.77" y="390.55" width="2.3" height="2.3" fill="none" stroke="#A2142F" stroke-width="1.4"/><rect x="496.33" y="388.35" width="2.3" height="2.3" fill="none" stroke="#A2142F" stroke-width="1.4"/><rect x="499.89" y="385.15" width="2.3" height="2.3" fill="none" stroke="#A2142F" stroke-width="1.4"/><rect x="503.45" y="380.35" width="2.3" height="2.3" fill="none" stroke="#A2142F" stroke-width="1.4"/><rect x="507.01" y="374.05" width="2.3" height="2.3" fill="none" stroke="#A2142F" stroke-width="1.4"/><rect x="510.57" y="361.85" width="2.3" height="2.3" fill="none" stroke="#A2142F" stroke-width="1.4"/><rect x="514.13" y="351.45" width="2.3" height="2.3" fill="none" stroke="#A2142F" stroke-width="1.4"/><rect x="517.69" y="339.45" width="2.3" height="2.3" fill="none" stroke="#A2142F" stroke-width="1.4"/><rect x="521.25" y="326.75" width="2.3" height="2.3" fill="none" stroke="#A2142F" stroke-width="1.4"/><rect x="524.81" y="314.05" width="2.3" height="2.3" fill="none" stroke="#A2142F" stroke-width="1.4"/><rect x="528.37" y="302.85" width="2.3" height="2.3" fill="none" stroke="#A2142F" stroke-width="1.4"/><rect x="531.93" y="294.05" width="2.3" height="2.3" fill="none" stroke="#A2142F" stroke-width="1.4"/><rect x="535.49" y="288.55" width="2.3" height="2.3" fill="none" stroke="#A2142F" stroke-width="1.4"/><rect x="539.05" y="281.65" width="2.3" height="2.3" fill="none" stroke="#A2142F" stroke-width="1.4"/><rect x="542.61" y="275.55" width="2.3" height="2.3" fill="none" stroke="#A2142F" stroke-width="1.4"/><rect x="546.17" y="270.65" width="2.3" height="2.3" fill="none" stroke="#A2142F" stroke-width="1.4"/><rect x="549.73" y="266.65" width="2.3" height="2.3" fill="none" stroke="#A2142F" stroke-width="1.4"/><rect x="553.29" y="262.65" width="2.3" height="2.3" fill="none" stroke="#A2142F" stroke-width="1.4"/><rect x="556.85" y="259.35" width="2.3" height="2.3" fill="none" stroke="#A2142F" stroke-width="1.4"/><rect x="560.41" y="256.85" width="2.3" height="2.3" fill="none" stroke="#A2142F" stroke-width="1.4"/><rect x="563.97" y="255.65" width="2.3" height="2.3" fill="none" stroke="#A2142F" stroke-width="1.4"/><rect x="567.53" y="254.35" width="2.3" height="2.3" fill="none" stroke="#A2142F" stroke-width="1.4"/><rect x="571.09" y="253.95" width="2.3" height="2.3" fill="none" stroke="#A2142F" stroke-width="1.4"/><rect x="574.65" y="253.65" width="2.3" height="2.3" fill="none" stroke="#A2142F" stroke-width="1.4"/><rect x="578.21" y="253.15" width="2.3" height="2.3" fill="none" stroke="#A2142F" stroke-width="1.4"/><rect x="581.77" y="252.15" width="2.3" height="2.3" fill="none" stroke="#A2142F" stroke-width="1.4"/><rect x="585.33" y="251.85" width="2.3" height="2.3" fill="none" stroke="#A2142F" stroke-width="1.4"/><rect x="588.89" y="252.35" width="2.3" height="2.3" fill="none" stroke="#A2142F" stroke-width="1.4"/><rect x="592.45" y="252.85" width="2.3" height="2.3" fill="none" stroke="#A2142F" stroke-width="1.4"/><rect x="596.01" y="253.65" width="2.3" height="2.3" fill="none" stroke="#A2142F" stroke-width="1.4"/><rect x="599.57" y="255.35" width="2.3" height="2.3" fill="none" stroke="#A2142F" stroke-width="1.4"/><rect x="603.13" y="259.05" width="2.3" height="2.3" fill="none" stroke="#A2142F" stroke-width="1.4"/><rect x="606.69" y="262.65" width="2.3" height="2.3" fill="none" stroke="#A2142F" stroke-width="1.4"/><rect x="610.25" y="265.55" width="2.3" height="2.3" fill="none" stroke="#A2142F" stroke-width="1.4"/><rect x="613.81" y="269.95" width="2.3" height="2.3" fill="none" stroke="#A2142F" stroke-width="1.4"/><rect x="617.37" y="274.75" width="2.3" height="2.3" fill="none" stroke="#A2142F" stroke-width="1.4"/><rect x="620.93" y="280.95" width="2.3" height="2.3" fill="none" stroke="#A2142F" stroke-width="1.4"/><rect x="624.49" y="288.25" width="2.3" height="2.3" fill="none" stroke="#A2142F" stroke-width="1.4"/><rect x="628.05" y="295.95" width="2.3" height="2.3" fill="none" stroke="#A2142F" stroke-width="1.4"/><rect x="631.61" y="305.25" width="2.3" height="2.3" fill="none" stroke="#A2142F" stroke-width="1.4"/><rect x="635.17" y="315.55" width="2.3" height="2.3" fill="none" stroke="#A2142F" stroke-width="1.4"/><rect x="638.73" y="326.05" width="2.3" height="2.3" fill="none" stroke="#A2142F" stroke-width="1.4"/><rect x="642.29" y="336.85" width="2.3" height="2.3" fill="none" stroke="#A2142F" stroke-width="1.4"/><rect x="645.85" y="347.05" width="2.3" height="2.3" fill="none" stroke="#A2142F" stroke-width="1.4"/><rect x="649.41" y="356.25" width="2.3" height="2.3" fill="none" stroke="#A2142F" stroke-width="1.4"/><rect x="652.97" y="365.05" width="2.3" height="2.3" fill="none" stroke="#A2142F" stroke-width="1.4"/><rect x="656.53" y="372.05" width="2.3" height="2.3" fill="none" stroke="#A2142F" stroke-width="1.4"/><rect x="660.09" y="378.15" width="2.3" height="2.3" fill="none" stroke="#A2142F" stroke-width="1.4"/><rect x="663.65" y="382.85" width="2.3" height="2.3" fill="none" stroke="#A2142F" stroke-width="1.4"/><rect x="667.21" y="386.45" width="2.3" height="2.3" fill="none" stroke="#A2142F" stroke-width="1.4"/><rect x="670.77" y="389.45" width="2.3" height="2.3" fill="none" stroke="#A2142F" stroke-width="1.4"/><rect x="674.33" y="391.55" width="2.3" height="2.3" fill="none" stroke="#A2142F" stroke-width="1.4"/><rect x="677.89" y="392.75" width="2.3" height="2.3" fill="none" stroke="#A2142F" stroke-width="1.4"/><rect x="681.45" y="393.45" width="2.3" height="2.3" fill="none" stroke="#A2142F" stroke-width="1.4"/><circle cx="492.14" cy="392.90" r="2.15" fill="#000"/><circle cx="502.82" cy="384.10" r="2.15" fill="#000"/><circle cx="513.50" cy="358.40" r="2.15" fill="#000"/><circle cx="524.18" cy="322.10" r="2.15" fill="#000"/><circle cx="534.86" cy="293.50" r="2.15" fill="#000"/><circle cx="545.54" cy="274.30" r="2.15" fill="#000"/><circle cx="556.22" cy="263.40" r="2.15" fill="#000"/><circle cx="566.90" cy="256.20" r="2.15" fill="#000"/><circle cx="577.58" cy="253.30" r="2.15" fill="#000"/><circle cx="588.26" cy="253.90" r="2.15" fill="#000"/><circle cx="598.94" cy="257.50" r="2.15" fill="#000"/><circle cx="609.62" cy="264.80" r="2.15" fill="#000"/><circle cx="620.30" cy="278.40" r="2.15" fill="#000"/><circle cx="630.98" cy="301.80" r="2.15" fill="#000"/><circle cx="641.66" cy="331.90" r="2.15" fill="#000"/><circle cx="652.34" cy="361.10" r="2.15" fill="#000"/><circle cx="663.02" cy="381.50" r="2.15" fill="#000"/><circle cx="673.70" cy="391.40" r="2.15" fill="#000"/><rect x="486.80" y="239.50" width="195.60" height="157.60" fill="none" stroke="#262626" stroke-width="1.5"/><path d="M522.40,397.10v-2.3M522.40,239.50v2.3M593.60,397.10v-2.3M593.60,239.50v2.3M664.80,397.10v-2.3M664.80,239.50v2.3M486.80,357.70h2.3M682.40,357.70h-2.3M486.80,318.30h2.3M682.40,318.30h-2.3M486.80,278.90h2.3M682.40,278.90h-2.3" stroke="#262626" stroke-width="1.5" fill="none"/><text x="484.50" y="400.30" font-family='"Liberation Serif", serif' font-size="11.7" text-anchor="end" textLength="5.85" lengthAdjust="spacingAndGlyphs" fill="#262626">0</text><text x="484.50" y="360.90" font-family='"Liberation Serif", serif' font-size="11.7" text-anchor="end" textLength="14.95" lengthAdjust="spacingAndGlyphs" fill="#262626">0.5</text><text x="484.50" y="321.50" font-family='"Liberation Serif", serif' font-size="11.7" text-anchor="end" textLength="5.85" lengthAdjust="spacingAndGlyphs" fill="#262626">1</text><text x="484.50" y="282.10" font-family='"Liberation Serif", serif' font-size="11.7" text-anchor="end" textLength="14.95" lengthAdjust="spacingAndGlyphs" fill="#262626">1.5</text><text x="484.50" y="242.70" font-family='"Liberation Serif", serif' font-size="11.7" text-anchor="end" textLength="5.85" lengthAdjust="spacingAndGlyphs" fill="#262626">2</text><g transform="translate(528.60,0) scale(1.1015,1)"><text x="0.00" y="233.60" font-family='"Liberation Serif", serif' font-size="11.7" font-style="italic" fill="#262626">ρ</text><text x="5.62" y="233.60" font-family='"Liberation Serif", serif' font-size="11.7" fill="#262626"> = 35 mm; z=12 mm</text></g><text x="489.02" y="253.42" font-family='"Liberation Sans", sans-serif' font-size="14.38" font-weight="bold" textLength="19.61" lengthAdjust="spacingAndGlyphs" fill="#000">(f)</text>
<g clip-path="url(#cpg)"><path d="M38.90,568.67 L44.50,565.07 L50.11,561.00 L55.71,556.23 L61.31,550.61 L66.92,543.95 L72.52,536.05 L78.12,526.68 L83.72,515.73 L89.33,503.37 L94.93,490.17 L100.53,477.03 L106.14,464.80 L111.74,454.03 L117.34,444.89 L122.94,437.00 L128.55,430.54 L134.15,426.85 L139.75,426.60 L145.36,429.30 L150.96,434.25 L156.56,441.21 L162.16,450.34 L167.77,461.57 L173.37,474.59 L178.97,488.83 L184.58,503.06 L190.18,516.09 L195.78,527.40 L201.39,536.99 L206.99,545.02 L212.59,551.70 L218.19,557.22 L223.80,561.74 L229.40,565.40 L235.00,568.46" fill="none" stroke="#7E2F8E" stroke-width="1.5" stroke-linejoin="round"/><path d="M38.90,570.66 L44.50,568.49 L50.11,565.89 L55.71,562.64 L61.31,558.63 L66.92,553.73 L72.52,547.82 L78.12,540.87 L83.72,532.98 L89.33,524.48 L94.93,515.82 L100.53,507.48 L106.14,499.83 L111.74,492.81 L117.34,486.78 L122.94,482.65 L128.55,480.30 L134.15,479.40 L139.75,480.23 L145.36,482.70 L150.96,486.45 L156.56,491.88 L162.16,499.17 L167.77,507.15 L173.37,515.20 L178.97,523.28 L184.58,531.06 L190.18,538.25 L195.78,544.72 L201.39,550.41 L206.99,555.34 L212.59,559.55 L218.19,563.09 L223.80,566.03 L229.40,568.43 L235.00,570.46" fill="none" stroke="#EDB120" stroke-width="1.5" stroke-linejoin="round"/></g><rect x="37.75" y="567.95" width="2.3" height="2.3" fill="none" stroke="#A2142F" stroke-width="1.4"/><rect x="43.35" y="564.55" width="2.3" height="2.3" fill="none" stroke="#A2142F" stroke-width="1.4"/><rect x="48.96" y="559.45" width="2.3" height="2.3" fill="none" stroke="#A2142F" stroke-width="1.4"/><rect x="54.56" y="553.85" width="2.3" height="2.3" fill="none" stroke="#A2142F" stroke-width="1.4"/><rect x="60.16" y="546.75" width="2.3" height="2.3" fill="none" stroke="#A2142F" stroke-width="1.4"/><rect x="65.77" y="540.45" width="2.3" height="2.3" fill="none" stroke="#A2142F" stroke-width="1.4"/><rect x="71.37" y="531.95" width="2.3" height="2.3" fill="none" stroke="#A2142F" stroke-width="1.4"/><rect x="76.97" y="522.95" width="2.3" height="2.3" fill="none" stroke="#A2142F" stroke-width="1.4"/><rect x="82.57" y="512.75" width="2.3" height="2.3" fill="none" stroke="#A2142F" stroke-width="1.4"/><rect x="88.18" y="502.05" width="2.3" height="2.3" fill="none" stroke="#A2142F" stroke-width="1.4"/><rect x="93.78" y="490.95" width="2.3" height="2.3" fill="none" stroke="#A2142F" stroke-width="1.4"/><rect x="99.38" y="477.05" width="2.3" height="2.3" fill="none" stroke="#A2142F" stroke-width="1.4"/><rect x="104.99" y="464.35" width="2.3" height="2.3" fill="none" stroke="#A2142F" stroke-width="1.4"/><rect x="110.59" y="450.85" width="2.3" height="2.3" fill="none" stroke="#A2142F" stroke-width="1.4"/><rect x="116.19" y="440.75" width="2.3" height="2.3" fill="none" stroke="#A2142F" stroke-width="1.4"/><rect x="121.79" y="430.85" width="2.3" height="2.3" fill="none" stroke="#A2142F" stroke-width="1.4"/><rect x="127.40" y="425.25" width="2.3" height="2.3" fill="none" stroke="#A2142F" stroke-width="1.4"/><rect x="133.00" y="421.85" width="2.3" height="2.3" fill="none" stroke="#A2142F" stroke-width="1.4"/><rect x="138.60" y="420.75" width="2.3" height="2.3" fill="none" stroke="#A2142F" stroke-width="1.4"/><rect x="144.21" y="427.85" width="2.3" height="2.3" fill="none" stroke="#A2142F" stroke-width="1.4"/><rect x="149.81" y="435.15" width="2.3" height="2.3" fill="none" stroke="#A2142F" stroke-width="1.4"/><rect x="155.41" y="445.65" width="2.3" height="2.3" fill="none" stroke="#A2142F" stroke-width="1.4"/><rect x="161.01" y="457.55" width="2.3" height="2.3" fill="none" stroke="#A2142F" stroke-width="1.4"/><rect x="166.62" y="470.95" width="2.3" height="2.3" fill="none" stroke="#A2142F" stroke-width="1.4"/><rect x="172.22" y="485.15" width="2.3" height="2.3" fill="none" stroke="#A2142F" stroke-width="1.4"/><rect x="177.82" y="496.45" width="2.3" height="2.3" fill="none" stroke="#A2142F" stroke-width="1.4"/><rect x="183.43" y="507.95" width="2.3" height="2.3" fill="none" stroke="#A2142F" stroke-width="1.4"/><rect x="189.03" y="518.15" width="2.3" height="2.3" fill="none" stroke="#A2142F" stroke-width="1.4"/><rect x="194.63" y="527.65" width="2.3" height="2.3" fill="none" stroke="#A2142F" stroke-width="1.4"/><rect x="200.24" y="537.25" width="2.3" height="2.3" fill="none" stroke="#A2142F" stroke-width="1.4"/><rect x="205.84" y="545.25" width="2.3" height="2.3" fill="none" stroke="#A2142F" stroke-width="1.4"/><rect x="211.44" y="552.45" width="2.3" height="2.3" fill="none" stroke="#A2142F" stroke-width="1.4"/><rect x="217.04" y="558.45" width="2.3" height="2.3" fill="none" stroke="#A2142F" stroke-width="1.4"/><rect x="222.65" y="563.55" width="2.3" height="2.3" fill="none" stroke="#A2142F" stroke-width="1.4"/><rect x="228.25" y="567.15" width="2.3" height="2.3" fill="none" stroke="#A2142F" stroke-width="1.4"/><rect x="233.85" y="570.05" width="2.3" height="2.3" fill="none" stroke="#A2142F" stroke-width="1.4"/><circle cx="47.31" cy="566.70" r="2.15" fill="#000"/><circle cx="64.11" cy="549.90" r="2.15" fill="#000"/><circle cx="80.92" cy="521.50" r="2.15" fill="#000"/><circle cx="97.73" cy="487.00" r="2.15" fill="#000"/><path d="M114.54,448.50V459.30M113.34,448.80H115.74M113.34,459.00H115.74" stroke="#000" stroke-width="1.2" fill="none"/><circle cx="114.54" cy="454.10" r="2.15" fill="#000"/><path d="M131.35,427.60V443.70M130.15,427.90H132.55M130.15,443.40H132.55" stroke="#000" stroke-width="1.2" fill="none"/><circle cx="131.35" cy="435.60" r="2.15" fill="#000"/><path d="M148.16,438.10V449.10M146.96,438.40H149.36M146.96,448.80H149.36" stroke="#000" stroke-width="1.2" fill="none"/><circle cx="148.16" cy="443.60" r="2.15" fill="#000"/><path d="M164.97,467.40V474.40M163.77,467.70H166.17M163.77,474.10H166.17" stroke="#000" stroke-width="1.2" fill="none"/><circle cx="164.97" cy="470.90" r="2.15" fill="#000"/><path d="M181.77,500.00V508.20M180.57,500.30H182.97M180.57,507.90H182.97" stroke="#000" stroke-width="1.2" fill="none"/><circle cx="181.77" cy="504.10" r="2.15" fill="#000"/><circle cx="198.58" cy="534.30" r="2.15" fill="#000"/><circle cx="215.39" cy="555.80" r="2.15" fill="#000"/><circle cx="232.20" cy="568.60" r="2.15" fill="#000"/><rect x="38.90" y="421.90" width="196.10" height="156.30" fill="none" stroke="#262626" stroke-width="1.5"/><path d="M94.93,578.20v-2.3M94.93,421.90v2.3M150.96,578.20v-2.3M150.96,421.90v2.3M206.99,578.20v-2.3M206.99,421.90v2.3M38.90,527.54h2.3M235.00,527.54h-2.3M38.90,476.87h2.3M235.00,476.87h-2.3M38.90,426.21h2.3M235.00,426.21h-2.3" stroke="#262626" stroke-width="1.5" fill="none"/><text x="36.60" y="581.40" font-family='"Liberation Serif", serif' font-size="11.7" text-anchor="end" textLength="5.85" lengthAdjust="spacingAndGlyphs" fill="#262626">0</text><text x="36.60" y="530.74" font-family='"Liberation Serif", serif' font-size="11.7" text-anchor="end" textLength="20.80" lengthAdjust="spacingAndGlyphs" fill="#262626">0.01</text><text x="36.60" y="480.07" font-family='"Liberation Serif", serif' font-size="11.7" text-anchor="end" textLength="20.80" lengthAdjust="spacingAndGlyphs" fill="#262626">0.02</text><text x="36.60" y="429.41" font-family='"Liberation Serif", serif' font-size="11.7" text-anchor="end" textLength="20.80" lengthAdjust="spacingAndGlyphs" fill="#262626">0.03</text><text x="38.90" y="590.70" font-family='"Liberation Serif", serif' font-size="11.7" text-anchor="middle" textLength="20.80" lengthAdjust="spacingAndGlyphs" fill="#262626">−10</text><text x="94.93" y="590.70" font-family='"Liberation Serif", serif' font-size="11.7" text-anchor="middle" textLength="5.85" lengthAdjust="spacingAndGlyphs" fill="#262626">0</text><text x="150.96" y="590.70" font-family='"Liberation Serif", serif' font-size="11.7" text-anchor="middle" textLength="11.70" lengthAdjust="spacingAndGlyphs" fill="#262626">10</text><text x="206.99" y="590.70" font-family='"Liberation Serif", serif' font-size="11.7" text-anchor="middle" textLength="11.70" lengthAdjust="spacingAndGlyphs" fill="#262626">20</text><g transform="translate(117.45,0) scale(1.1433,1)"><text x="0.00" y="604.50" font-family='"Liberation Serif", serif' font-size="11.7" font-style="italic" fill="#262626">x</text><text x="5.19" y="604.50" font-family='"Liberation Serif", serif' font-size="11.7" fill="#262626"> (mm)</text></g><g transform="translate(80.95,0) scale(1.1015,1)"><text x="0.00" y="415.60" font-family='"Liberation Serif", serif' font-size="11.7" font-style="italic" fill="#262626">ρ</text><text x="5.62" y="415.60" font-family='"Liberation Serif", serif' font-size="11.7" fill="#262626"> = 15 mm; z=20 mm</text></g><text x="41.17" y="435.77" font-family='"Liberation Sans", sans-serif' font-size="14.31" font-weight="bold" textLength="23.72" lengthAdjust="spacingAndGlyphs" fill="#000">(g)</text>
<g clip-path="url(#cph)"><path d="M262.68,573.78 L267.04,571.75 L271.39,569.41 L275.75,566.64 L280.11,563.35 L284.46,559.47 L288.82,554.91 L293.18,549.53 L297.54,543.19 L301.89,535.73 L306.25,527.00 L310.61,516.93 L314.96,505.66 L319.32,493.66 L323.68,481.52 L328.04,470.19 L332.39,460.32 L336.75,451.48 L341.11,443.42 L345.46,436.50 L349.82,430.88 L354.18,426.52 L358.53,423.58 L362.89,422.48 L367.25,423.33 L371.61,426.10 L375.96,430.82 L380.32,437.15 L384.68,444.98 L389.03,454.27 L393.39,464.68 L397.75,476.01 L402.10,488.19 L406.46,500.67 L410.82,512.57 L415.18,523.31 L419.53,532.68 L423.89,540.72 L428.25,547.58 L432.60,553.42 L436.96,558.38 L441.32,562.59 L445.67,566.15 L450.03,569.15 L454.39,571.65 L458.75,573.82" fill="none" stroke="#7E2F8E" stroke-width="1.5" stroke-linejoin="round"/><path d="M262.68,574.51 L267.04,572.88 L271.39,571.04 L275.75,568.88 L280.11,566.38 L284.46,563.35 L288.82,559.28 L293.18,554.00 L297.54,547.75 L301.89,540.72 L306.25,533.20 L310.61,525.35 L314.96,517.12 L319.32,508.90 L323.68,500.78 L328.04,492.28 L332.39,484.07 L336.75,477.04 L341.11,471.29 L345.46,466.89 L349.82,463.87 L354.18,462.11 L358.53,461.45 L362.89,461.80 L367.25,463.21 L371.61,465.84 L375.96,469.83 L380.32,475.26 L384.68,482.09 L389.03,490.06 L393.39,498.77 L397.75,507.84 L402.10,516.93 L406.46,525.69 L410.82,533.81 L415.18,541.09 L419.53,547.47 L423.89,552.95 L428.25,557.61 L432.60,561.52 L436.96,564.77 L441.32,567.42 L445.67,569.54 L450.03,571.20 L454.39,572.43 L458.75,573.36" fill="none" stroke="#EDB120" stroke-width="1.5" stroke-linejoin="round"/></g><rect x="261.53" y="573.35" width="2.3" height="2.3" fill="none" stroke="#A2142F" stroke-width="1.4"/><rect x="265.89" y="571.85" width="2.3" height="2.3" fill="none" stroke="#A2142F" stroke-width="1.4"/><rect x="270.24" y="569.65" width="2.3" height="2.3" fill="none" stroke="#A2142F" stroke-width="1.4"/><rect x="274.60" y="567.45" width="2.3" height="2.3" fill="none" stroke="#A2142F" stroke-width="1.4"/><rect x="278.96" y="564.25" width="2.3" height="2.3" fill="none" stroke="#A2142F" stroke-width="1.4"/><rect x="283.31" y="559.45" width="2.3" height="2.3" fill="none" stroke="#A2142F" stroke-width="1.4"/><rect x="287.67" y="554.65" width="2.3" height="2.3" fill="none" stroke="#A2142F" stroke-width="1.4"/><rect x="292.03" y="547.75" width="2.3" height="2.3" fill="none" stroke="#A2142F" stroke-width="1.4"/><rect x="296.39" y="539.75" width="2.3" height="2.3" fill="none" stroke="#A2142F" stroke-width="1.4"/><rect x="300.74" y="530.25" width="2.3" height="2.3" fill="none" stroke="#A2142F" stroke-width="1.4"/><rect x="305.10" y="520.45" width="2.3" height="2.3" fill="none" stroke="#A2142F" stroke-width="1.4"/><rect x="309.46" y="511.25" width="2.3" height="2.3" fill="none" stroke="#A2142F" stroke-width="1.4"/><rect x="313.81" y="500.55" width="2.3" height="2.3" fill="none" stroke="#A2142F" stroke-width="1.4"/><rect x="318.17" y="490.25" width="2.3" height="2.3" fill="none" stroke="#A2142F" stroke-width="1.4"/><rect x="322.53" y="479.95" width="2.3" height="2.3" fill="none" stroke="#A2142F" stroke-width="1.4"/><rect x="326.89" y="471.65" width="2.3" height="2.3" fill="none" stroke="#A2142F" stroke-width="1.4"/><rect x="331.24" y="463.65" width="2.3" height="2.3" fill="none" stroke="#A2142F" stroke-width="1.4"/><rect x="335.60" y="454.55" width="2.3" height="2.3" fill="none" stroke="#A2142F" stroke-width="1.4"/><rect x="339.96" y="446.55" width="2.3" height="2.3" fill="none" stroke="#A2142F" stroke-width="1.4"/><rect x="344.31" y="441.75" width="2.3" height="2.3" fill="none" stroke="#A2142F" stroke-width="1.4"/><rect x="348.67" y="437.85" width="2.3" height="2.3" fill="none" stroke="#A2142F" stroke-width="1.4"/><rect x="353.03" y="435.15" width="2.3" height="2.3" fill="none" stroke="#A2142F" stroke-width="1.4"/><rect x="357.38" y="434.75" width="2.3" height="2.3" fill="none" stroke="#A2142F" stroke-width="1.4"/><rect x="361.74" y="437.85" width="2.3" height="2.3" fill="none" stroke="#A2142F" stroke-width="1.4"/><rect x="366.10" y="441.75" width="2.3" height="2.3" fill="none" stroke="#A2142F" stroke-width="1.4"/><rect x="370.46" y="445.65" width="2.3" height="2.3" fill="none" stroke="#A2142F" stroke-width="1.4"/><rect x="374.81" y="451.25" width="2.3" height="2.3" fill="none" stroke="#A2142F" stroke-width="1.4"/><rect x="379.17" y="458.05" width="2.3" height="2.3" fill="none" stroke="#A2142F" stroke-width="1.4"/><rect x="383.53" y="465.85" width="2.3" height="2.3" fill="none" stroke="#A2142F" stroke-width="1.4"/><rect x="387.88" y="474.15" width="2.3" height="2.3" fill="none" stroke="#A2142F" stroke-width="1.4"/><rect x="392.24" y="482.95" width="2.3" height="2.3" fill="none" stroke="#A2142F" stroke-width="1.4"/><rect x="396.60" y="492.45" width="2.3" height="2.3" fill="none" stroke="#A2142F" stroke-width="1.4"/><rect x="400.95" y="502.05" width="2.3" height="2.3" fill="none" stroke="#A2142F" stroke-width="1.4"/><rect x="405.31" y="511.95" width="2.3" height="2.3" fill="none" stroke="#A2142F" stroke-width="1.4"/><rect x="409.67" y="520.35" width="2.3" height="2.3" fill="none" stroke="#A2142F" stroke-width="1.4"/><rect x="414.03" y="528.75" width="2.3" height="2.3" fill="none" stroke="#A2142F" stroke-width="1.4"/><rect x="418.38" y="536.55" width="2.3" height="2.3" fill="none" stroke="#A2142F" stroke-width="1.4"/><rect x="422.74" y="542.95" width="2.3" height="2.3" fill="none" stroke="#A2142F" stroke-width="1.4"/><rect x="427.10" y="549.95" width="2.3" height="2.3" fill="none" stroke="#A2142F" stroke-width="1.4"/><rect x="431.45" y="554.75" width="2.3" height="2.3" fill="none" stroke="#A2142F" stroke-width="1.4"/><rect x="435.81" y="559.15" width="2.3" height="2.3" fill="none" stroke="#A2142F" stroke-width="1.4"/><rect x="440.17" y="563.05" width="2.3" height="2.3" fill="none" stroke="#A2142F" stroke-width="1.4"/><rect x="444.52" y="566.75" width="2.3" height="2.3" fill="none" stroke="#A2142F" stroke-width="1.4"/><rect x="448.88" y="569.95" width="2.3" height="2.3" fill="none" stroke="#A2142F" stroke-width="1.4"/><rect x="453.24" y="571.85" width="2.3" height="2.3" fill="none" stroke="#A2142F" stroke-width="1.4"/><rect x="457.60" y="573.35" width="2.3" height="2.3" fill="none" stroke="#A2142F" stroke-width="1.4"/><circle cx="269.22" cy="571.10" r="2.15" fill="#000"/><circle cx="282.29" cy="561.80" r="2.15" fill="#000"/><circle cx="295.36" cy="543.80" r="2.15" fill="#000"/><circle cx="308.43" cy="516.80" r="2.15" fill="#000"/><circle cx="321.50" cy="486.70" r="2.15" fill="#000"/><path d="M334.57,457.20V463.60M333.37,457.50H335.77M333.37,463.30H335.77" stroke="#000" stroke-width="1.2" fill="none"/><circle cx="334.57" cy="460.40" r="2.15" fill="#000"/><path d="M347.64,439.70V447.30M346.44,440.00H348.84M346.44,447.00H348.84" stroke="#000" stroke-width="1.2" fill="none"/><circle cx="347.64" cy="443.30" r="2.15" fill="#000"/><circle cx="360.71" cy="437.60" r="2.15" fill="#000"/><path d="M373.78,441.60V447.60M372.58,441.90H374.98M372.58,447.30H374.98" stroke="#000" stroke-width="1.2" fill="none"/><circle cx="373.78" cy="444.60" r="2.15" fill="#000"/><circle cx="386.85" cy="466.30" r="2.15" fill="#000"/><circle cx="399.93" cy="495.20" r="2.15" fill="#000"/><circle cx="413.00" cy="523.40" r="2.15" fill="#000"/><circle cx="426.07" cy="547.40" r="2.15" fill="#000"/><circle cx="439.14" cy="562.80" r="2.15" fill="#000"/><circle cx="452.21" cy="571.50" r="2.15" fill="#000"/><rect x="262.70" y="421.90" width="196.30" height="156.30" fill="none" stroke="#262626" stroke-width="1.5"/><path d="M306.25,578.20v-2.3M306.25,421.90v2.3M349.82,578.20v-2.3M349.82,421.90v2.3M393.39,578.20v-2.3M393.39,421.90v2.3M436.96,578.20v-2.3M436.96,421.90v2.3M262.70,551.60h2.3M459.00,551.60h-2.3M262.70,524.99h2.3M459.00,524.99h-2.3M262.70,498.39h2.3M459.00,498.39h-2.3M262.70,471.78h2.3M459.00,471.78h-2.3M262.70,445.18h2.3M459.00,445.18h-2.3" stroke="#262626" stroke-width="1.5" fill="none"/><text x="260.40" y="581.40" font-family='"Liberation Serif", serif' font-size="11.7" text-anchor="end" textLength="5.85" lengthAdjust="spacingAndGlyphs" fill="#262626">0</text><text x="260.40" y="554.80" font-family='"Liberation Serif", serif' font-size="11.7" text-anchor="end" textLength="20.80" lengthAdjust="spacingAndGlyphs" fill="#262626">0.02</text><text x="260.40" y="528.19" font-family='"Liberation Serif", serif' font-size="11.7" text-anchor="end" textLength="20.80" lengthAdjust="spacingAndGlyphs" fill="#262626">0.04</text><text x="260.40" y="501.59" font-family='"Liberation Serif", serif' font-size="11.7" text-anchor="end" textLength="20.80" lengthAdjust="spacingAndGlyphs" fill="#262626">0.06</text><text x="260.40" y="474.98" font-family='"Liberation Serif", serif' font-size="11.7" text-anchor="end" textLength="20.80" lengthAdjust="spacingAndGlyphs" fill="#262626">0.08</text><text x="260.40" y="448.38" font-family='"Liberation Serif", serif' font-size="11.7" text-anchor="end" textLength="14.95" lengthAdjust="spacingAndGlyphs" fill="#262626">0.1</text><text x="262.68" y="590.70" font-family='"Liberation Serif", serif' font-size="11.7" text-anchor="middle" textLength="20.80" lengthAdjust="spacingAndGlyphs" fill="#262626">−10</text><text x="306.25" y="590.70" font-family='"Liberation Serif", serif' font-size="11.7" text-anchor="middle" textLength="5.85" lengthAdjust="spacingAndGlyphs" fill="#262626">0</text><text x="349.82" y="590.70" font-family='"Liberation Serif", serif' font-size="11.7" text-anchor="middle" textLength="11.70" lengthAdjust="spacingAndGlyphs" fill="#262626">10</text><text x="393.39" y="590.70" font-family='"Liberation Serif", serif' font-size="11.7" text-anchor="middle" textLength="11.70" lengthAdjust="spacingAndGlyphs" fill="#262626">20</text><text x="436.96" y="590.70" font-family='"Liberation Serif", serif' font-size="11.7" text-anchor="middle" textLength="11.70" lengthAdjust="spacingAndGlyphs" fill="#262626">30</text><g transform="translate(341.35,0) scale(1.1433,1)"><text x="0.00" y="604.50" font-family='"Liberation Serif", serif' font-size="11.7" font-style="italic" fill="#262626">x</text><text x="5.19" y="604.50" font-family='"Liberation Serif", serif' font-size="11.7" fill="#262626"> (mm)</text></g><g transform="translate(304.85,0) scale(1.1015,1)"><text x="0.00" y="415.60" font-family='"Liberation Serif", serif' font-size="11.7" font-style="italic" fill="#262626">ρ</text><text x="5.62" y="415.60" font-family='"Liberation Serif", serif' font-size="11.7" fill="#262626"> = 25 mm; z=20 mm</text></g><text x="264.98" y="435.82" font-family='"Liberation Sans", sans-serif' font-size="14.38" font-weight="bold" textLength="23.66" lengthAdjust="spacingAndGlyphs" fill="#000">(h)</text>
<g clip-path="url(#cpi)"><path d="M486.80,575.20 L490.36,574.08 L493.92,572.66 L497.48,570.81 L501.04,568.51 L504.60,565.72 L508.16,562.40 L511.72,558.54 L515.28,554.12 L518.84,549.13 L522.40,543.60 L525.96,537.54 L529.52,530.91 L533.08,523.65 L536.64,515.78 L540.20,507.38 L543.76,498.63 L547.32,489.79 L550.88,480.84 L554.44,472.45 L558.00,465.55 L561.56,459.60 L565.12,454.15 L568.68,449.40 L572.24,445.47 L575.80,442.50 L579.36,440.40 L582.92,439.05 L586.48,438.48 L590.04,438.98 L593.60,440.70 L597.16,443.62 L600.72,448.00 L604.28,453.58 L607.84,459.70 L611.40,466.23 L614.96,473.12 L618.52,480.52 L622.08,488.45 L625.64,496.50 L629.20,504.85 L632.76,513.92 L636.32,522.97 L639.88,531.03 L643.44,538.06 L647.00,544.28 L650.56,549.74 L654.12,554.51 L657.68,558.67 L661.24,562.27 L664.80,565.39 L668.36,568.06 L671.92,570.34 L675.48,572.25 L679.04,573.85 L682.60,575.21" fill="none" stroke="#7E2F8E" stroke-width="1.5" stroke-linejoin="round"/><path d="M486.80,576.28 L490.36,574.64 L493.92,572.82 L497.48,570.74 L501.04,568.35 L504.60,565.63 L508.16,562.52 L511.72,558.97 L515.28,554.92 L518.84,550.31 L522.40,545.09 L525.96,539.24 L529.52,532.77 L533.08,525.79 L536.64,518.48 L540.20,511.07 L543.76,503.82 L547.32,496.94 L550.88,490.59 L554.44,484.53 L558.00,478.62 L561.56,473.43 L565.12,469.30 L568.68,466.38 L572.24,464.60 L575.80,463.50 L579.36,462.88 L582.92,462.88 L586.48,463.60 L590.04,465.10 L593.60,467.42 L597.16,470.60 L600.72,474.62 L604.28,479.50 L607.84,485.07 L611.40,490.88 L614.96,496.75 L618.52,503.38 L622.08,510.98 L625.64,518.95 L629.20,526.60 L632.76,533.36 L636.32,539.27 L639.88,544.60 L643.44,549.34 L647.00,553.54 L650.56,557.24 L654.12,560.46 L657.68,563.25 L661.24,565.65 L664.80,567.68 L668.36,569.38 L671.92,570.78 L675.48,571.89 L679.04,572.74 L682.60,573.41" fill="none" stroke="#EDB120" stroke-width="1.5" stroke-linejoin="round"/></g><rect x="485.65" y="574.25" width="2.3" height="2.3" fill="none" stroke="#A2142F" stroke-width="1.4"/><rect x="489.21" y="573.05" width="2.3" height="2.3" fill="none" stroke="#A2142F" stroke-width="1.4"/><rect x="492.77" y="571.65" width="2.3" height="2.3" fill="none" stroke="#A2142F" stroke-width="1.4"/><rect x="496.33" y="570.05" width="2.3" height="2.3" fill="none" stroke="#A2142F" stroke-width="1.4"/><rect x="499.89" y="567.85" width="2.3" height="2.3" fill="none" stroke="#A2142F" stroke-width="1.4"/><rect x="503.45" y="565.15" width="2.3" height="2.3" fill="none" stroke="#A2142F" stroke-width="1.4"/><rect x="507.01" y="562.05" width="2.3" height="2.3" fill="none" stroke="#A2142F" stroke-width="1.4"/><rect x="510.57" y="558.25" width="2.3" height="2.3" fill="none" stroke="#A2142F" stroke-width="1.4"/><rect x="514.13" y="553.85" width="2.3" height="2.3" fill="none" stroke="#A2142F" stroke-width="1.4"/><rect x="517.69" y="548.45" width="2.3" height="2.3" fill="none" stroke="#A2142F" stroke-width="1.4"/><rect x="521.25" y="542.75" width="2.3" height="2.3" fill="none" stroke="#A2142F" stroke-width="1.4"/><rect x="524.81" y="536.55" width="2.3" height="2.3" fill="none" stroke="#A2142F" stroke-width="1.4"/><rect x="528.37" y="529.95" width="2.3" height="2.3" fill="none" stroke="#A2142F" stroke-width="1.4"/><rect x="531.93" y="523.35" width="2.3" height="2.3" fill="none" stroke="#A2142F" stroke-width="1.4"/><rect x="535.49" y="515.35" width="2.3" height="2.3" fill="none" stroke="#A2142F" stroke-width="1.4"/><rect x="539.05" y="507.95" width="2.3" height="2.3" fill="none" stroke="#A2142F" stroke-width="1.4"/><rect x="542.61" y="499.85" width="2.3" height="2.3" fill="none" stroke="#A2142F" stroke-width="1.4"/><rect x="546.17" y="491.35" width="2.3" height="2.3" fill="none" stroke="#A2142F" stroke-width="1.4"/><rect x="549.73" y="482.95" width="2.3" height="2.3" fill="none" stroke="#A2142F" stroke-width="1.4"/><rect x="553.29" y="474.55" width="2.3" height="2.3" fill="none" stroke="#A2142F" stroke-width="1.4"/><rect x="556.85" y="467.25" width="2.3" height="2.3" fill="none" stroke="#A2142F" stroke-width="1.4"/><rect x="560.41" y="461.45" width="2.3" height="2.3" fill="none" stroke="#A2142F" stroke-width="1.4"/><rect x="563.97" y="455.95" width="2.3" height="2.3" fill="none" stroke="#A2142F" stroke-width="1.4"/><rect x="567.53" y="452.25" width="2.3" height="2.3" fill="none" stroke="#A2142F" stroke-width="1.4"/><rect x="571.09" y="449.75" width="2.3" height="2.3" fill="none" stroke="#A2142F" stroke-width="1.4"/><rect x="574.65" y="447.85" width="2.3" height="2.3" fill="none" stroke="#A2142F" stroke-width="1.4"/><rect x="578.21" y="447.25" width="2.3" height="2.3" fill="none" stroke="#A2142F" stroke-width="1.4"/><rect x="581.77" y="447.15" width="2.3" height="2.3" fill="none" stroke="#A2142F" stroke-width="1.4"/><rect x="585.33" y="446.85" width="2.3" height="2.3" fill="none" stroke="#A2142F" stroke-width="1.4"/><rect x="588.89" y="447.55" width="2.3" height="2.3" fill="none" stroke="#A2142F" stroke-width="1.4"/><rect x="592.45" y="450.55" width="2.3" height="2.3" fill="none" stroke="#A2142F" stroke-width="1.4"/><rect x="596.01" y="454.85" width="2.3" height="2.3" fill="none" stroke="#A2142F" stroke-width="1.4"/><rect x="599.57" y="458.95" width="2.3" height="2.3" fill="none" stroke="#A2142F" stroke-width="1.4"/><rect x="603.13" y="465.15" width="2.3" height="2.3" fill="none" stroke="#A2142F" stroke-width="1.4"/><rect x="606.69" y="471.95" width="2.3" height="2.3" fill="none" stroke="#A2142F" stroke-width="1.4"/><rect x="610.25" y="479.75" width="2.3" height="2.3" fill="none" stroke="#A2142F" stroke-width="1.4"/><rect x="613.81" y="486.75" width="2.3" height="2.3" fill="none" stroke="#A2142F" stroke-width="1.4"/><rect x="617.37" y="492.85" width="2.3" height="2.3" fill="none" stroke="#A2142F" stroke-width="1.4"/><rect x="620.93" y="499.85" width="2.3" height="2.3" fill="none" stroke="#A2142F" stroke-width="1.4"/><rect x="624.49" y="507.15" width="2.3" height="2.3" fill="none" stroke="#A2142F" stroke-width="1.4"/><rect x="628.05" y="513.85" width="2.3" height="2.3" fill="none" stroke="#A2142F" stroke-width="1.4"/><rect x="631.61" y="521.15" width="2.3" height="2.3" fill="none" stroke="#A2142F" stroke-width="1.4"/><rect x="635.17" y="528.35" width="2.3" height="2.3" fill="none" stroke="#A2142F" stroke-width="1.4"/><rect x="638.73" y="534.65" width="2.3" height="2.3" fill="none" stroke="#A2142F" stroke-width="1.4"/><rect x="642.29" y="541.15" width="2.3" height="2.3" fill="none" stroke="#A2142F" stroke-width="1.4"/><rect x="645.85" y="547.35" width="2.3" height="2.3" fill="none" stroke="#A2142F" stroke-width="1.4"/><rect x="649.41" y="552.45" width="2.3" height="2.3" fill="none" stroke="#A2142F" stroke-width="1.4"/><rect x="652.97" y="557.25" width="2.3" height="2.3" fill="none" stroke="#A2142F" stroke-width="1.4"/><rect x="656.53" y="561.15" width="2.3" height="2.3" fill="none" stroke="#A2142F" stroke-width="1.4"/><rect x="660.09" y="564.55" width="2.3" height="2.3" fill="none" stroke="#A2142F" stroke-width="1.4"/><rect x="663.65" y="567.45" width="2.3" height="2.3" fill="none" stroke="#A2142F" stroke-width="1.4"/><rect x="667.21" y="569.65" width="2.3" height="2.3" fill="none" stroke="#A2142F" stroke-width="1.4"/><rect x="670.77" y="571.45" width="2.3" height="2.3" fill="none" stroke="#A2142F" stroke-width="1.4"/><rect x="674.33" y="572.85" width="2.3" height="2.3" fill="none" stroke="#A2142F" stroke-width="1.4"/><rect x="677.89" y="574.05" width="2.3" height="2.3" fill="none" stroke="#A2142F" stroke-width="1.4"/><rect x="681.45" y="574.75" width="2.3" height="2.3" fill="none" stroke="#A2142F" stroke-width="1.4"/><circle cx="492.14" cy="573.70" r="2.15" fill="#000"/><circle cx="502.82" cy="568.00" r="2.15" fill="#000"/><circle cx="513.50" cy="556.30" r="2.15" fill="#000"/><circle cx="524.18" cy="538.70" r="2.15" fill="#000"/><circle cx="534.86" cy="516.80" r="2.15" fill="#000"/><circle cx="545.54" cy="494.00" r="2.15" fill="#000"/><path d="M556.22,470.80V476.80M555.02,471.10H557.42M555.02,476.50H557.42" stroke="#000" stroke-width="1.2" fill="none"/><circle cx="556.22" cy="473.80" r="2.15" fill="#000"/><circle cx="566.90" cy="457.20" r="2.15" fill="#000"/><path d="M577.58,445.00V452.40M576.38,445.30H578.78M576.38,452.10H578.78" stroke="#000" stroke-width="1.2" fill="none"/><circle cx="577.58" cy="448.70" r="2.15" fill="#000"/><path d="M588.26,444.30V451.70M587.06,444.60H589.46M587.06,451.40H589.46" stroke="#000" stroke-width="1.2" fill="none"/><circle cx="588.26" cy="448.00" r="2.15" fill="#000"/><path d="M598.94,453.30V458.70M597.74,453.60H600.14M597.74,458.40H600.14" stroke="#000" stroke-width="1.2" fill="none"/><circle cx="598.94" cy="456.00" r="2.15" fill="#000"/><circle cx="609.62" cy="471.80" r="2.15" fill="#000"/><circle cx="620.30" cy="493.00" r="2.15" fill="#000"/><circle cx="630.98" cy="517.10" r="2.15" fill="#000"/><circle cx="641.66" cy="538.20" r="2.15" fill="#000"/><circle cx="652.34" cy="555.50" r="2.15" fill="#000"/><circle cx="663.02" cy="566.40" r="2.15" fill="#000"/><circle cx="673.70" cy="572.70" r="2.15" fill="#000"/><rect x="486.80" y="421.90" width="195.60" height="156.30" fill="none" stroke="#262626" stroke-width="1.5"/><path d="M522.40,578.20v-2.3M522.40,421.90v2.3M593.60,578.20v-2.3M593.60,421.90v2.3M664.80,578.20v-2.3M664.80,421.90v2.3M486.80,526.10h2.3M682.40,526.10h-2.3M486.80,474.00h2.3M682.40,474.00h-2.3" stroke="#262626" stroke-width="1.5" fill="none"/><text x="484.50" y="581.40" font-family='"Liberation Serif", serif' font-size="11.7" text-anchor="end" textLength="5.85" lengthAdjust="spacingAndGlyphs" fill="#262626">0</text><text x="484.50" y="529.30" font-family='"Liberation Serif", serif' font-size="11.7" text-anchor="end" textLength="14.95" lengthAdjust="spacingAndGlyphs" fill="#262626">0.1</text><text x="484.50" y="477.20" font-family='"Liberation Serif", serif' font-size="11.7" text-anchor="end" textLength="14.95" lengthAdjust="spacingAndGlyphs" fill="#262626">0.2</text><text x="484.50" y="425.10" font-family='"Liberation Serif", serif' font-size="11.7" text-anchor="end" textLength="14.95" lengthAdjust="spacingAndGlyphs" fill="#262626">0.3</text><text x="522.40" y="590.70" font-family='"Liberation Serif", serif' font-size="11.7" text-anchor="middle" textLength="5.85" lengthAdjust="spacingAndGlyphs" fill="#262626">0</text><text x="593.60" y="590.70" font-family='"Liberation Serif", serif' font-size="11.7" text-anchor="middle" textLength="11.70" lengthAdjust="spacingAndGlyphs" fill="#262626">20</text><text x="664.80" y="590.70" font-family='"Liberation Serif", serif' font-size="11.7" text-anchor="middle" textLength="11.70" lengthAdjust="spacingAndGlyphs" fill="#262626">40</text><g transform="translate(565.10,0) scale(1.1433,1)"><text x="0.00" y="604.50" font-family='"Liberation Serif", serif' font-size="11.7" font-style="italic" fill="#262626">x</text><text x="5.19" y="604.50" font-family='"Liberation Serif", serif' font-size="11.7" fill="#262626"> (mm)</text></g><g transform="translate(528.60,0) scale(1.1015,1)"><text x="0.00" y="415.60" font-family='"Liberation Serif", serif' font-size="11.7" font-style="italic" fill="#262626">ρ</text><text x="5.62" y="415.60" font-family='"Liberation Serif", serif' font-size="11.7" fill="#262626"> = 35 mm; z=20 mm</text></g><text x="489.04" y="435.82" font-family='"Liberation Sans", sans-serif' font-size="14.38" font-weight="bold" textLength="18.19" lengthAdjust="spacingAndGlyphs" fill="#000">(i)</text>
<g transform="translate(25.10,138.40) rotate(-90)"><g transform="translate(-24.30,0) scale(1.1160,1)"><path d="M3.51,-8.77 L0.94,-2.92 L3.51,2.92" fill="none" stroke="#262626" stroke-width="0.64" stroke-linejoin="miter"/><text x="4.55" y="0.00" font-family='"Liberation Serif", serif' font-size="11.7" font-style="italic" fill="#262626">l</text><text x="7.80" y="2.00" font-family='"Liberation Serif", serif' font-size="8.19" font-style="italic" fill="#262626">i</text><path d="M11.01,-8.77 L13.59,-2.92 L11.01,2.92" fill="none" stroke="#262626" stroke-width="0.64" stroke-linejoin="miter"/><text x="14.63" y="0.00" font-family='"Liberation Serif", serif' font-size="11.7" fill="#262626"> (mm)</text></g></g>
<g transform="translate(15.90,319.90) rotate(-90)"><g transform="translate(-24.30,0) scale(1.1160,1)"><path d="M3.51,-8.77 L0.94,-2.92 L3.51,2.92" fill="none" stroke="#262626" stroke-width="0.64" stroke-linejoin="miter"/><text x="4.55" y="0.00" font-family='"Liberation Serif", serif' font-size="11.7" font-style="italic" fill="#262626">l</text><text x="7.80" y="2.00" font-family='"Liberation Serif", serif' font-size="8.19" font-style="italic" fill="#262626">i</text><path d="M11.01,-8.77 L13.59,-2.92 L11.01,2.92" fill="none" stroke="#262626" stroke-width="0.64" stroke-linejoin="miter"/><text x="14.63" y="0.00" font-family='"Liberation Serif", serif' font-size="11.7" fill="#262626"> (mm)</text></g></g>
<g transform="translate(9.60,501.65) rotate(-90)"><g transform="translate(-24.30,0) scale(1.1160,1)"><path d="M3.51,-8.77 L0.94,-2.92 L3.51,2.92" fill="none" stroke="#262626" stroke-width="0.64" stroke-linejoin="miter"/><text x="4.55" y="0.00" font-family='"Liberation Serif", serif' font-size="11.7" font-style="italic" fill="#262626">l</text><text x="7.80" y="2.00" font-family='"Liberation Serif", serif' font-size="8.19" font-style="italic" fill="#262626">i</text><path d="M11.01,-8.77 L13.59,-2.92 L11.01,2.92" fill="none" stroke="#262626" stroke-width="0.64" stroke-linejoin="miter"/><text x="14.63" y="0.00" font-family='"Liberation Serif", serif' font-size="11.7" fill="#262626"> (mm)</text></g></g>
<path d="M156.5,73.6V120.8" stroke="#0000FF" stroke-width="1.3"/>
<path d="M156.5,67.8L154.05,76.1L156.5,74.1L158.95,76.1Z" fill="#0000FF"/>
<path d="M156.5,126.6L154.05,118.3L156.5,120.3L158.95,118.3Z" fill="#0000FF"/>
<text x="124.77" y="137.75" font-family='"Liberation Sans", sans-serif' font-size="15.4" textLength="32.71" lengthAdjust="spacingAndGlyphs" fill="#0000FF">66%</text>
<path d="M139.65,247.20000000000002V291.8" stroke="#0000FF" stroke-width="1.3"/>
<path d="M139.65,241.4L137.20000000000002,249.70000000000002L139.65,247.70000000000002L142.1,249.70000000000002Z" fill="#0000FF"/>
<path d="M139.65,297.6L137.20000000000002,289.3L139.65,291.3L142.1,289.3Z" fill="#0000FF"/>
<text x="116.28" y="315.65" font-family='"Liberation Sans", sans-serif' font-size="15.68" textLength="32.19" lengthAdjust="spacingAndGlyphs" fill="#0000FF">69%</text>
<path d="M139.5,430.5V475.4" stroke="#0000FF" stroke-width="1.3"/>
<path d="M139.5,424.7L137.05,433.0L139.5,431.0L141.95,433.0Z" fill="#0000FF"/>
<path d="M139.5,481.2L137.05,472.9L139.5,474.9L141.95,472.9Z" fill="#0000FF"/>
<text x="118.56" y="497.65" font-family='"Liberation Sans", sans-serif' font-size="15.25" textLength="32.22" lengthAdjust="spacingAndGlyphs" fill="#0000FF">50%</text>
<g transform="translate(234.50,0) scale(1.1642,1)"><text x="0.00" y="10.90" font-family='"Liberation Serif", serif' font-size="11.5" font-style="italic" fill="#262626">μ</text><text x="5.77" y="12.90" font-family='"Liberation Serif", serif' font-size="8.049999999999999" font-style="italic" fill="#262626">a</text><text x="9.80" y="10.90" font-family='"Liberation Serif", serif' font-size="11.5" fill="#262626"> = 0.020 mm</text><text x="68.67" y="6.70" font-family='"Liberation Serif", serif' font-size="8.049999999999999" fill="#262626">−1</text><text x="77.24" y="10.90" font-family='"Liberation Serif", serif' font-size="11.5" fill="#262626">; </text><text x="83.31" y="10.90" font-family='"Liberation Serif", serif' font-size="11.5" font-style="italic" fill="#262626">μ</text><text x="89.08" y="11.40" font-family='"Liberation Serif", serif' font-size="13" fill="#262626">′</text><text x="89.32" y="13.40" font-family='"Liberation Serif", serif' font-size="8.049999999999999" font-style="italic" fill="#262626">s</text><text x="92.46" y="10.90" font-family='"Liberation Serif", serif' font-size="11.5" fill="#262626"> = 0.5 mm</text><text x="139.83" y="6.70" font-family='"Liberation Serif", serif' font-size="8.049999999999999" fill="#262626">−1</text><text x="148.40" y="10.90" font-family='"Liberation Serif", serif' font-size="11.5" fill="#262626">; </text><text x="154.47" y="10.90" font-family='"Liberation Serif", serif' font-size="11.5" font-style="italic" fill="#262626">g</text><text x="160.22" y="10.90" font-family='"Liberation Serif", serif' font-size="11.5" fill="#262626"> = 0.0</text></g>
<rect x="172.4" y="19.6" width="396.9" height="17.7" fill="#fff" stroke="#000" stroke-width="1.3"/>
<path d="M176.8,28.5H221" stroke="#7E2F8E" stroke-width="1.5"/>
<path d="M256.2,28.6H300.7" stroke="#EDB120" stroke-width="1.5"/>
<rect x="377.95" y="27.25" width="2.3" height="2.3" fill="none" stroke="#A2142F" stroke-width="1.4"/>
<path d="M487,23.3V33.7M485.9,23.7H488.1M485.9,33.3H488.1" stroke="#000" stroke-width="1.3"/><circle cx="487" cy="28.5" r="2.3" fill="#000"/>
<g transform="translate(224.70,0) scale(1.1563,1)"><path d="M3.51,23.52 L0.94,29.37 L3.51,35.22" fill="none" stroke="#000" stroke-width="0.64" stroke-linejoin="miter"/><text x="4.55" y="32.30" font-family='"Liberation Serif", serif' font-size="11.7" font-style="italic" fill="#000">l</text><text x="7.80" y="34.10" font-family='"Liberation Serif", serif' font-size="8.19" font-style="italic" fill="#000">i</text><path d="M11.01,23.52 L13.59,29.37 L11.01,35.22" fill="none" stroke="#000" stroke-width="0.64" stroke-linejoin="miter"/><text x="14.63" y="34.10" font-family='"Liberation Serif", serif' font-size="8.19" font-style="italic" fill="#000">R</text></g>
<g transform="translate(304.60,0) scale(1.1219,1)"><path d="M3.51,23.52 L0.94,29.37 L3.51,35.22" fill="none" stroke="#000" stroke-width="0.64" stroke-linejoin="miter"/><text x="4.55" y="32.30" font-family='"Liberation Serif", serif' font-size="11.7" font-style="italic" fill="#000">l</text><text x="7.80" y="34.10" font-family='"Liberation Serif", serif' font-size="8.19" font-style="italic" fill="#000">i</text><path d="M11.01,23.52 L13.59,29.37 L11.01,35.22" fill="none" stroke="#000" stroke-width="0.64" stroke-linejoin="miter"/><text x="14.63" y="34.10" font-family='"Liberation Serif", serif' font-size="8.19" fill="#000">Φ</text><text x="20.62" y="34.10" font-family='"Liberation Serif", serif' font-size="8.19" fill="#000">(</text><text x="23.34" y="34.10" font-family='"Liberation Serif", serif' font-size="8.19" font-style="italic" fill="#000">z</text><text x="26.53" y="34.10" font-family='"Liberation Serif", serif' font-size="8.19" fill="#000">=0)</text></g>
<g transform="translate(405.00,0) scale(1.1780,1)"><path d="M3.51,23.52 L0.94,29.37 L3.51,35.22" fill="none" stroke="#000" stroke-width="0.64" stroke-linejoin="miter"/><text x="4.55" y="32.30" font-family='"Liberation Serif", serif' font-size="11.7" font-style="italic" fill="#000">l</text><text x="7.80" y="34.10" font-family='"Liberation Serif", serif' font-size="8.19" font-style="italic" fill="#000">i</text><path d="M11.01,23.52 L13.59,29.37 L11.01,35.22" fill="none" stroke="#000" stroke-width="0.64" stroke-linejoin="miter"/><text x="14.63" y="34.10" font-family='"Liberation Serif", serif' font-size="8.19" font-style="italic" fill="#000">R−MCF</text></g>
<g transform="translate(513.60,0) scale(1.1709,1)"><path d="M3.51,23.52 L0.94,29.37 L3.51,35.22" fill="none" stroke="#000" stroke-width="0.64" stroke-linejoin="miter"/><text x="4.55" y="32.30" font-family='"Liberation Serif", serif' font-size="11.7" font-style="italic" fill="#000">l</text><text x="7.80" y="34.10" font-family='"Liberation Serif", serif' font-size="8.19" font-style="italic" fill="#000">i</text><path d="M11.01,23.52 L13.59,29.37 L11.01,35.22" fill="none" stroke="#000" stroke-width="0.64" stroke-linejoin="miter"/><text x="14.63" y="34.10" font-family='"Liberation Serif", serif' font-size="8.19" font-style="italic" fill="#000">R−MCX</text></g>
</svg>
</body></html>
